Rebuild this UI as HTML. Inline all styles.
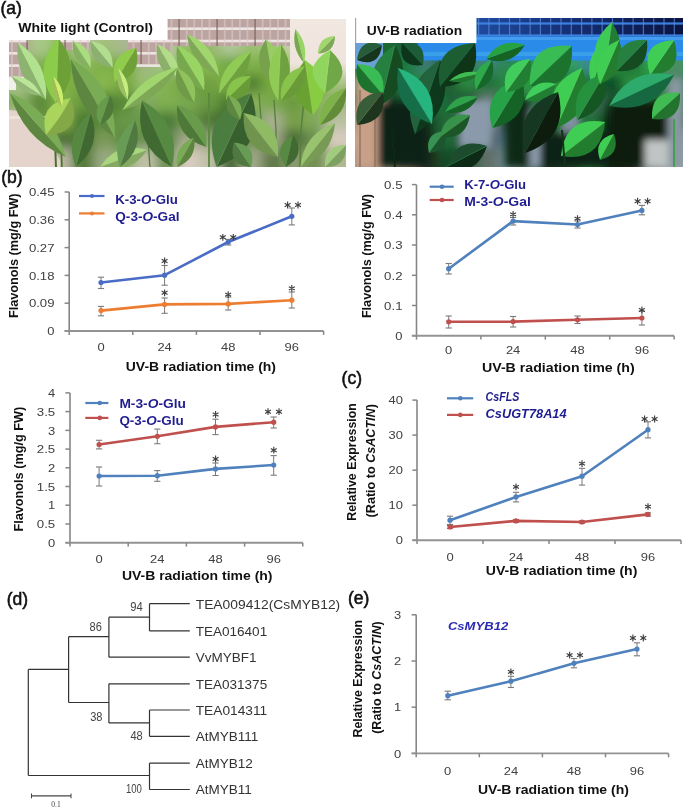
<!DOCTYPE html><html><head><meta charset="utf-8"><style>html,body{margin:0;padding:0;background:#fff;}svg{display:block;}text{font-family:"Liberation Sans", sans-serif;}</style></head><body>
<svg width="685" height="807" viewBox="0 0 685 807">
<rect width="685" height="807" fill="#fff"/>
<filter id="lfb"><feGaussianBlur stdDeviation="0.7"/></filter>
<filter id="plb" x="-10%" y="-10%" width="120%" height="120%"><feGaussianBlur stdDeviation="6"/></filter>
<clipPath id="pl"><rect x="9" y="19" width="337" height="148"/></clipPath>
<g clip-path="url(#pl)"><g filter="url(#plb)">
<rect x="-11.0" y="-1.0" width="41.7" height="39.1" fill="#b8a8a0"/>
<rect x="30.1" y="-1.0" width="21.7" height="39.1" fill="#a8c888"/>
<rect x="51.1" y="-1.0" width="21.7" height="39.1" fill="#a0c070"/>
<rect x="72.2" y="-1.0" width="21.7" height="39.1" fill="#b8c0a0"/>
<rect x="93.2" y="-1.0" width="21.7" height="39.1" fill="#a8c080"/>
<rect x="114.3" y="-1.0" width="21.7" height="39.1" fill="#b0b898"/>
<rect x="135.4" y="-1.0" width="21.7" height="39.1" fill="#b8b0a0"/>
<rect x="156.4" y="-1.0" width="21.7" height="39.1" fill="#c8c0b0"/>
<rect x="177.5" y="-1.0" width="21.7" height="39.1" fill="#c8c8b0"/>
<rect x="198.6" y="-1.0" width="21.7" height="39.1" fill="#c8bcb0"/>
<rect x="219.6" y="-1.0" width="21.7" height="39.1" fill="#d0c0b8"/>
<rect x="240.7" y="-1.0" width="21.7" height="39.1" fill="#c0b0a8"/>
<rect x="261.8" y="-1.0" width="21.7" height="39.1" fill="#b8a8a0"/>
<rect x="282.8" y="-1.0" width="21.7" height="39.1" fill="#e8e0d8"/>
<rect x="303.9" y="-1.0" width="21.7" height="39.1" fill="#f0e0d8"/>
<rect x="324.9" y="-1.0" width="41.7" height="39.1" fill="#eee0d8"/>
<rect x="-11.0" y="37.5" width="41.7" height="19.1" fill="#b0a890"/>
<rect x="30.1" y="37.5" width="21.7" height="19.1" fill="#a8c888"/>
<rect x="51.1" y="37.5" width="21.7" height="19.1" fill="#88b850"/>
<rect x="72.2" y="37.5" width="21.7" height="19.1" fill="#b8c0a0"/>
<rect x="93.2" y="37.5" width="21.7" height="19.1" fill="#a0c078"/>
<rect x="114.3" y="37.5" width="21.7" height="19.1" fill="#a8b890"/>
<rect x="135.4" y="37.5" width="21.7" height="19.1" fill="#b8b0a0"/>
<rect x="156.4" y="37.5" width="21.7" height="19.1" fill="#c0c0a8"/>
<rect x="177.5" y="37.5" width="21.7" height="19.1" fill="#90c060"/>
<rect x="198.6" y="37.5" width="21.7" height="19.1" fill="#98b870"/>
<rect x="219.6" y="37.5" width="21.7" height="19.1" fill="#b0c898"/>
<rect x="240.7" y="37.5" width="21.7" height="19.1" fill="#98c070"/>
<rect x="261.8" y="37.5" width="21.7" height="19.1" fill="#a0c878"/>
<rect x="282.8" y="37.5" width="21.7" height="19.1" fill="#c8d0a8"/>
<rect x="303.9" y="37.5" width="21.7" height="19.1" fill="#c0d098"/>
<rect x="324.9" y="37.5" width="41.7" height="19.1" fill="#b8d090"/>
<rect x="-11.0" y="56.0" width="41.7" height="19.1" fill="#b0b098"/>
<rect x="30.1" y="56.0" width="21.7" height="19.1" fill="#80b050"/>
<rect x="51.1" y="56.0" width="21.7" height="19.1" fill="#70a838"/>
<rect x="72.2" y="56.0" width="21.7" height="19.1" fill="#88b858"/>
<rect x="93.2" y="56.0" width="21.7" height="19.1" fill="#80b048"/>
<rect x="114.3" y="56.0" width="21.7" height="19.1" fill="#7cb040"/>
<rect x="135.4" y="56.0" width="21.7" height="19.1" fill="#a0b880"/>
<rect x="156.4" y="56.0" width="21.7" height="19.1" fill="#a0c880"/>
<rect x="177.5" y="56.0" width="21.7" height="19.1" fill="#78b040"/>
<rect x="198.6" y="56.0" width="21.7" height="19.1" fill="#88b850"/>
<rect x="219.6" y="56.0" width="21.7" height="19.1" fill="#70a840"/>
<rect x="240.7" y="56.0" width="21.7" height="19.1" fill="#80b048"/>
<rect x="261.8" y="56.0" width="21.7" height="19.1" fill="#78a840"/>
<rect x="282.8" y="56.0" width="21.7" height="19.1" fill="#a0c868"/>
<rect x="303.9" y="56.0" width="21.7" height="19.1" fill="#78b030"/>
<rect x="324.9" y="56.0" width="41.7" height="19.1" fill="#90c060"/>
<rect x="-11.0" y="74.5" width="41.7" height="19.1" fill="#a8c088"/>
<rect x="30.1" y="74.5" width="21.7" height="19.1" fill="#78a848"/>
<rect x="51.1" y="74.5" width="21.7" height="19.1" fill="#80b040"/>
<rect x="72.2" y="74.5" width="21.7" height="19.1" fill="#78a848"/>
<rect x="93.2" y="74.5" width="21.7" height="19.1" fill="#88b850"/>
<rect x="114.3" y="74.5" width="21.7" height="19.1" fill="#78a840"/>
<rect x="135.4" y="74.5" width="21.7" height="19.1" fill="#98c070"/>
<rect x="156.4" y="74.5" width="21.7" height="19.1" fill="#80b050"/>
<rect x="177.5" y="74.5" width="21.7" height="19.1" fill="#70a040"/>
<rect x="198.6" y="74.5" width="21.7" height="19.1" fill="#70a040"/>
<rect x="219.6" y="74.5" width="21.7" height="19.1" fill="#80b048"/>
<rect x="240.7" y="74.5" width="21.7" height="19.1" fill="#508030"/>
<rect x="261.8" y="74.5" width="21.7" height="19.1" fill="#78a840"/>
<rect x="282.8" y="74.5" width="21.7" height="19.1" fill="#80b040"/>
<rect x="303.9" y="74.5" width="21.7" height="19.1" fill="#78b038"/>
<rect x="324.9" y="74.5" width="41.7" height="19.1" fill="#80b050"/>
<rect x="-11.0" y="93.0" width="41.7" height="19.1" fill="#88b060"/>
<rect x="30.1" y="93.0" width="21.7" height="19.1" fill="#5a8a38"/>
<rect x="51.1" y="93.0" width="21.7" height="19.1" fill="#80b048"/>
<rect x="72.2" y="93.0" width="21.7" height="19.1" fill="#6a9a40"/>
<rect x="93.2" y="93.0" width="21.7" height="19.1" fill="#4a7a30"/>
<rect x="114.3" y="93.0" width="21.7" height="19.1" fill="#5a8a38"/>
<rect x="135.4" y="93.0" width="21.7" height="19.1" fill="#80a860"/>
<rect x="156.4" y="93.0" width="21.7" height="19.1" fill="#80b050"/>
<rect x="177.5" y="93.0" width="21.7" height="19.1" fill="#78a850"/>
<rect x="198.6" y="93.0" width="21.7" height="19.1" fill="#6a9840"/>
<rect x="219.6" y="93.0" width="21.7" height="19.1" fill="#4a7a30"/>
<rect x="240.7" y="93.0" width="21.7" height="19.1" fill="#88b058"/>
<rect x="261.8" y="93.0" width="21.7" height="19.1" fill="#78a848"/>
<rect x="282.8" y="93.0" width="21.7" height="19.1" fill="#6a9a40"/>
<rect x="303.9" y="93.0" width="21.7" height="19.1" fill="#80b050"/>
<rect x="324.9" y="93.0" width="41.7" height="19.1" fill="#a0b880"/>
<rect x="-11.0" y="111.5" width="41.7" height="19.1" fill="#c8c0a8"/>
<rect x="30.1" y="111.5" width="21.7" height="19.1" fill="#6a9040"/>
<rect x="51.1" y="111.5" width="21.7" height="19.1" fill="#88b050"/>
<rect x="72.2" y="111.5" width="21.7" height="19.1" fill="#4a7a30"/>
<rect x="93.2" y="111.5" width="21.7" height="19.1" fill="#5a8a38"/>
<rect x="114.3" y="111.5" width="21.7" height="19.1" fill="#6a9848"/>
<rect x="135.4" y="111.5" width="21.7" height="19.1" fill="#6a9a48"/>
<rect x="156.4" y="111.5" width="21.7" height="19.1" fill="#4a7838"/>
<rect x="177.5" y="111.5" width="21.7" height="19.1" fill="#6a9848"/>
<rect x="198.6" y="111.5" width="21.7" height="19.1" fill="#507838"/>
<rect x="219.6" y="111.5" width="21.7" height="19.1" fill="#3a6028"/>
<rect x="240.7" y="111.5" width="21.7" height="19.1" fill="#70a050"/>
<rect x="261.8" y="111.5" width="21.7" height="19.1" fill="#a8b090"/>
<rect x="282.8" y="111.5" width="21.7" height="19.1" fill="#78a048"/>
<rect x="303.9" y="111.5" width="21.7" height="19.1" fill="#80a858"/>
<rect x="324.9" y="111.5" width="41.7" height="19.1" fill="#b8c0a0"/>
<rect x="-11.0" y="130.0" width="41.7" height="19.1" fill="#e8d8d0"/>
<rect x="30.1" y="130.0" width="21.7" height="19.1" fill="#a8a888"/>
<rect x="51.1" y="130.0" width="21.7" height="19.1" fill="#4a7030"/>
<rect x="72.2" y="130.0" width="21.7" height="19.1" fill="#507830"/>
<rect x="93.2" y="130.0" width="21.7" height="19.1" fill="#7a9a58"/>
<rect x="114.3" y="130.0" width="21.7" height="19.1" fill="#5a8a40"/>
<rect x="135.4" y="130.0" width="21.7" height="19.1" fill="#6a9050"/>
<rect x="156.4" y="130.0" width="21.7" height="19.1" fill="#608848"/>
<rect x="177.5" y="130.0" width="21.7" height="19.1" fill="#a0a888"/>
<rect x="198.6" y="130.0" width="21.7" height="19.1" fill="#90a078"/>
<rect x="219.6" y="130.0" width="21.7" height="19.1" fill="#3a6028"/>
<rect x="240.7" y="130.0" width="21.7" height="19.1" fill="#6a9048"/>
<rect x="261.8" y="130.0" width="21.7" height="19.1" fill="#a0a888"/>
<rect x="282.8" y="130.0" width="21.7" height="19.1" fill="#4a6a38"/>
<rect x="303.9" y="130.0" width="21.7" height="19.1" fill="#6a9050"/>
<rect x="324.9" y="130.0" width="41.7" height="19.1" fill="#d8ccc0"/>
<rect x="-11.0" y="148.5" width="41.7" height="39.1" fill="#d0c8b8"/>
<rect x="30.1" y="148.5" width="21.7" height="39.1" fill="#e8d8d0"/>
<rect x="51.1" y="148.5" width="21.7" height="39.1" fill="#b8b8a0"/>
<rect x="72.2" y="148.5" width="21.7" height="39.1" fill="#507830"/>
<rect x="93.2" y="148.5" width="21.7" height="39.1" fill="#98a880"/>
<rect x="114.3" y="148.5" width="21.7" height="39.1" fill="#90b070"/>
<rect x="135.4" y="148.5" width="21.7" height="39.1" fill="#c0c0a8"/>
<rect x="156.4" y="148.5" width="21.7" height="39.1" fill="#6a9050"/>
<rect x="177.5" y="148.5" width="21.7" height="39.1" fill="#d8ccc0"/>
<rect x="198.6" y="148.5" width="21.7" height="39.1" fill="#c0c0a8"/>
<rect x="219.6" y="148.5" width="21.7" height="39.1" fill="#4a6a38"/>
<rect x="240.7" y="148.5" width="21.7" height="39.1" fill="#a0a888"/>
<rect x="261.8" y="148.5" width="21.7" height="39.1" fill="#607848"/>
<rect x="282.8" y="148.5" width="21.7" height="39.1" fill="#8a9a70"/>
<rect x="303.9" y="148.5" width="21.7" height="39.1" fill="#709050"/>
<rect x="324.9" y="148.5" width="41.7" height="39.1" fill="#b0b890"/>
</g></g>
<g clip-path="url(#pl)"><g filter="url(#lfb)">
<rect x="160" y="19" width="131" height="27" fill="#bca4a0"/>
<rect x="160" y="27.4" width="131" height="2.6" fill="#efe4e4"/>
<rect x="160" y="39.7" width="131" height="2.6" fill="#efe4e4"/>
<rect x="163.0" y="19" width="1.8" height="27" fill="#dccccc" opacity="0.6"/>
<rect x="170.6" y="19" width="1.8" height="27" fill="#dccccc" opacity="0.6"/>
<rect x="178.2" y="19" width="1.8" height="27" fill="#7a5c54" opacity="0.6"/>
<rect x="185.8" y="19" width="1.8" height="27" fill="#dccccc" opacity="0.6"/>
<rect x="193.4" y="19" width="1.8" height="27" fill="#dccccc" opacity="0.6"/>
<rect x="201.0" y="19" width="1.8" height="27" fill="#dccccc" opacity="0.6"/>
<rect x="208.6" y="19" width="1.8" height="27" fill="#dccccc" opacity="0.6"/>
<rect x="216.2" y="19" width="1.8" height="27" fill="#7a5c54" opacity="0.6"/>
<rect x="223.8" y="19" width="1.8" height="27" fill="#dccccc" opacity="0.6"/>
<rect x="231.4" y="19" width="1.8" height="27" fill="#dccccc" opacity="0.6"/>
<rect x="239.0" y="19" width="1.8" height="27" fill="#dccccc" opacity="0.6"/>
<rect x="246.6" y="19" width="1.8" height="27" fill="#dccccc" opacity="0.6"/>
<rect x="254.2" y="19" width="1.8" height="27" fill="#7a5c54" opacity="0.6"/>
<rect x="261.8" y="19" width="1.8" height="27" fill="#dccccc" opacity="0.6"/>
<rect x="269.4" y="19" width="1.8" height="27" fill="#dccccc" opacity="0.6"/>
<rect x="277.0" y="19" width="1.8" height="27" fill="#dccccc" opacity="0.6"/>
<rect x="284.6" y="19" width="1.8" height="27" fill="#dccccc" opacity="0.6"/>
<rect x="9" y="40" width="19" height="38" fill="#bca4a0"/>
<rect x="9" y="39.7" width="19" height="2.6" fill="#efe4e4"/>
<rect x="9" y="52.0" width="19" height="2.6" fill="#efe4e4"/>
<rect x="9" y="64.3" width="19" height="2.6" fill="#efe4e4"/>
<rect x="9" y="76.6" width="19" height="2.6" fill="#efe4e4"/>
<rect x="11.0" y="40" width="1.8" height="38" fill="#dccccc" opacity="0.6"/>
<rect x="18.6" y="40" width="1.8" height="38" fill="#dccccc" opacity="0.6"/>
<rect x="26.2" y="40" width="1.8" height="38" fill="#7a5c54" opacity="0.6"/>
<rect x="60" y="40" width="30" height="10" fill="#bca4a0"/>
<rect x="60" y="39.7" width="30" height="2.6" fill="#efe4e4"/>
<rect x="64.2" y="40" width="1.8" height="10" fill="#7a5c54" opacity="0.6"/>
<rect x="71.8" y="40" width="1.8" height="10" fill="#dccccc" opacity="0.6"/>
<rect x="79.4" y="40" width="1.8" height="10" fill="#dccccc" opacity="0.6"/>
<rect x="87.0" y="40" width="1.8" height="10" fill="#dccccc" opacity="0.6"/>
<rect x="128" y="40" width="42" height="24" fill="#bca4a0"/>
<rect x="128" y="39.7" width="42" height="2.6" fill="#efe4e4"/>
<rect x="128" y="52.0" width="42" height="2.6" fill="#efe4e4"/>
<rect x="128" y="64.3" width="42" height="2.6" fill="#efe4e4"/>
<rect x="132.6" y="40" width="1.8" height="24" fill="#dccccc" opacity="0.6"/>
<rect x="140.2" y="40" width="1.8" height="24" fill="#7a5c54" opacity="0.6"/>
<rect x="147.8" y="40" width="1.8" height="24" fill="#dccccc" opacity="0.6"/>
<rect x="155.4" y="40" width="1.8" height="24" fill="#dccccc" opacity="0.6"/>
<rect x="163.0" y="40" width="1.8" height="24" fill="#dccccc" opacity="0.6"/>
<rect x="9" y="78" width="7" height="12" fill="#f0f0e8"/>
<path d="M9,110 L30,112 L60,160 L60,167 L9,167Z" fill="#e4d4cc"/>
<rect x="9" y="116" width="40" height="3" fill="#efe4dc" opacity="0.8"/>
<linearGradient id="wallg" x1="0" x2="0" y1="0" y2="1"><stop offset="0" stop-color="#f2e8e2"/><stop offset="0.6" stop-color="#efe4dc"/><stop offset="1" stop-color="#efe4dc" stop-opacity="0"/></linearGradient>
<rect x="290" y="15" width="60" height="80" fill="url(#wallg)"/>
</g></g>
<g clip-path="url(#pl)" filter="url(#lfb)"><path d="M56.0,168.0 L55.0,140.0 L52.0,110.0" stroke="#4a7030" stroke-width="2" fill="none"/>
<path d="M62.0,168.0 L61.0,145.0" stroke="#4a7030" stroke-width="1.6" fill="none"/>
<path d="M209.0,168.0 L209.0,130.0 L209.0,93.0" stroke="#5a8a40" stroke-width="1.8" fill="none"/>
<path d="M261.0,150.0 L261.0,120.0 L259.0,93.0" stroke="#5a8040" stroke-width="1.4" fill="none"/>
<path d="M276.0,168.0 L276.0,130.0 L274.0,100.0" stroke="#5a8040" stroke-width="1.4" fill="none"/>
<path d="M300.0,168.0 L301.0,130.0 L304.0,100.0" stroke="#5a8040" stroke-width="1.6" fill="none"/>
<path d="M150.0,168.0 L148.0,140.0" stroke="#5a7a40" stroke-width="1.4" fill="none"/>
<path d="M46.0,100.0Q49.3,62.6 17.6,42.5Q31.8,71.2 46.0,100.0Z" fill="#b2e190"/><path d="M46.0,100.0Q14.3,79.9 17.6,42.5Q31.8,71.2 46.0,100.0Z" fill="#8cb370"/>
<path d="M41.0,95.5Q32.6,76.2 11.5,76.0Q26.2,85.8 41.0,95.5Z" fill="#bbe699"/><path d="M41.0,95.5Q19.9,95.3 11.5,76.0Q26.2,85.8 41.0,95.5Z" fill="#93b777"/>
<path d="M90.5,68.0Q93.3,47.0 73.0,41.0Q81.8,54.5 90.5,68.0Z" fill="#aadd7f"/><path d="M90.5,68.0Q70.2,62.0 73.0,41.0Q81.8,54.5 90.5,68.0Z" fill="#85b062"/>
<path d="M112.7,68.0Q114.0,44.3 90.5,41.0Q101.6,54.5 112.7,68.0Z" fill="#b2dd90"/><path d="M112.7,68.0Q89.2,64.7 90.5,41.0Q101.6,54.5 112.7,68.0Z" fill="#8cb070"/>
<path d="M56.0,103.0Q84.8,71.5 58.4,38.0Q57.2,70.5 56.0,103.0Z" fill="#6da138"/><path d="M56.0,103.0Q29.6,69.5 58.4,38.0Q57.2,70.5 56.0,103.0Z" fill="#8ccc4c"/><path d="M56.0,103.0Q57.2,70.5 58.4,38.0" stroke="#a8d868" stroke-width="0.7" fill="none" opacity="0.6"/>
<path d="M115.0,137.5Q116.7,84.6 70.7,58.5Q94.6,97.0 115.0,137.5Z" fill="#79ac54"/><path d="M115.0,137.5Q72.5,109.4 70.7,58.5Q94.6,97.0 115.0,137.5Z" fill="#5d873f"/><path d="M115.0,137.5Q94.6,97.0 70.7,58.5" stroke="#a0c878" stroke-width="0.7" fill="none" opacity="0.6"/>
<path d="M115.0,83.0Q143.3,75.7 136.0,47.4Q125.5,65.2 115.0,83.0Z" fill="#70a138"/><path d="M115.0,83.0Q107.7,54.7 136.0,47.4Q125.5,65.2 115.0,83.0Z" fill="#90cc4c"/>
<path d="M127.5,100.0Q131.6,81.4 118.0,68.0Q122.8,84.0 127.5,100.0Z" fill="#c3ee7f"/><path d="M127.5,100.0Q113.9,86.6 118.0,68.0Q122.8,84.0 127.5,100.0Z" fill="#9abe62"/>
<path d="M178.0,80.7Q181.5,54.3 157.0,43.7Q167.5,62.2 178.0,80.7Z" fill="#b2dd88"/><path d="M178.0,80.7Q153.5,70.1 157.0,43.7Q167.5,62.2 178.0,80.7Z" fill="#8cb069"/>
<path d="M66.0,157.0Q53.6,111.4 10.0,93.0Q38.0,125.0 66.0,157.0Z" fill="#79ac54"/><path d="M66.0,157.0Q22.4,138.6 10.0,93.0Q38.0,125.0 66.0,157.0Z" fill="#5d873f"/><path d="M66.0,157.0Q38.0,125.0 10.0,93.0" stroke="#98c070" stroke-width="0.7" fill="none" opacity="0.6"/>
<path d="M122.6,110.0Q159.6,100.4 178.0,67.0Q149.7,87.7 122.6,110.0Z" fill="#7ea854"/><path d="M122.6,110.0Q139.8,75.0 178.0,67.0Q149.7,87.7 122.6,110.0Z" fill="#a1d56e"/><path d="M122.6,110.0Q149.7,87.7 178.0,67.0" stroke="#b8e088" stroke-width="0.7" fill="none" opacity="0.6"/>
<path d="M46.0,135.0Q83.8,133.5 70.7,98.0Q60.8,118.2 46.0,135.0Z" fill="#85a846"/><path d="M46.0,135.0Q37.9,102.8 70.7,98.0Q60.8,118.2 46.0,135.0Z" fill="#aad55d"/>
<path d="M75.7,167.0Q103.1,145.5 90.5,113.0Q83.1,140.0 75.7,167.0Z" fill="#416931"/><path d="M75.7,167.0Q63.1,134.5 90.5,113.0Q83.1,140.0 75.7,167.0Z" fill="#568843"/><path d="M75.7,167.0Q83.1,140.0 90.5,113.0" stroke="#6a9a58" stroke-width="0.7" fill="none" opacity="0.6"/>
<path d="M172.0,167.0Q182.2,122.4 142.0,100.5Q157.0,133.8 172.0,167.0Z" fill="#568a43"/><path d="M172.0,167.0Q131.8,145.1 142.0,100.5Q157.0,133.8 172.0,167.0Z" fill="#416b31"/><path d="M172.0,167.0Q157.0,133.8 142.0,100.5" stroke="#6a9a58" stroke-width="0.7" fill="none" opacity="0.6"/>
<path d="M100.0,167.0Q129.8,175.8 147.0,150.0Q123.5,158.5 100.0,167.0Z" fill="#85a862"/><path d="M100.0,167.0Q117.2,141.2 147.0,150.0Q123.5,158.5 100.0,167.0Z" fill="#aad57f"/>
<path d="M62.0,107.0Q66.3,88.9 53.0,76.0Q57.5,91.5 62.0,107.0Z" fill="#ccee6e"/><path d="M62.0,107.0Q48.7,94.1 53.0,76.0Q57.5,91.5 62.0,107.0Z" fill="#a1be54"/>
<path d="M120.0,167.0Q145.0,149.1 135.0,120.0Q127.5,143.5 120.0,167.0Z" fill="#4f793f"/><path d="M120.0,167.0Q110.0,137.9 135.0,120.0Q127.5,143.5 120.0,167.0Z" fill="#679b54"/>
<path d="M100.0,125.0Q120.3,115.1 110.0,95.0Q105.0,110.0 100.0,125.0Z" fill="#4f7938"/><path d="M100.0,125.0Q89.7,104.9 110.0,95.0Q105.0,110.0 100.0,125.0Z" fill="#679b4c"/>
<path d="M219.0,76.0Q215.8,45.2 187.0,34.0Q203.0,55.0 219.0,76.0Z" fill="#a1d56e"/><path d="M219.0,76.0Q190.2,64.8 187.0,34.0Q203.0,55.0 219.0,76.0Z" fill="#7ea854"/><path d="M219.0,76.0Q203.0,55.0 187.0,34.0" stroke="#b8e088" stroke-width="0.7" fill="none" opacity="0.6"/>
<path d="M204.0,90.6Q208.2,57.6 177.0,46.0Q190.5,68.3 204.0,90.6Z" fill="#99d565"/><path d="M204.0,90.6Q172.8,79.0 177.0,46.0Q190.5,68.3 204.0,90.6Z" fill="#77a84d"/>
<path d="M219.0,93.0Q249.6,83.2 251.0,51.0Q235.0,72.0 219.0,93.0Z" fill="#70a13f"/><path d="M219.0,93.0Q220.4,60.8 251.0,51.0Q235.0,72.0 219.0,93.0Z" fill="#90cc54"/><path d="M219.0,93.0Q235.0,72.0 251.0,51.0" stroke="#a8d870" stroke-width="0.7" fill="none" opacity="0.6"/>
<path d="M226.0,100.0Q251.2,101.3 251.0,76.0Q238.5,88.0 226.0,100.0Z" fill="#699a38"/><path d="M226.0,100.0Q225.8,74.7 251.0,76.0Q238.5,88.0 226.0,100.0Z" fill="#88c34c"/>
<path d="M216.5,167.0Q269.2,146.5 251.0,93.0Q233.8,130.0 216.5,167.0Z" fill="#37602d"/><path d="M216.5,167.0Q198.3,113.5 251.0,93.0Q233.8,130.0 216.5,167.0Z" fill="#4b7d3f"/><path d="M216.5,167.0Q233.8,130.0 251.0,93.0" stroke="#78a868" stroke-width="0.7" fill="none" opacity="0.6"/>
<path d="M278.0,157.0Q280.8,119.4 243.7,113.0Q260.9,135.0 278.0,157.0Z" fill="#90bb65"/><path d="M278.0,157.0Q240.9,150.6 243.7,113.0Q260.9,135.0 278.0,157.0Z" fill="#70934d"/><path d="M278.0,157.0Q260.9,135.0 243.7,113.0" stroke="#a0c078" stroke-width="0.7" fill="none" opacity="0.6"/>
<path d="M273.0,83.0Q289.9,57.7 266.0,39.0Q269.5,61.0 273.0,83.0Z" fill="#99cc65"/><path d="M273.0,83.0Q249.1,64.3 266.0,39.0Q269.5,61.0 273.0,83.0Z" fill="#77a14d"/>
<path d="M278.0,100.5Q300.0,73.1 280.7,43.7Q279.4,72.1 278.0,100.5Z" fill="#70a13f"/><path d="M278.0,100.5Q258.7,71.1 280.7,43.7Q279.4,72.1 278.0,100.5Z" fill="#90cc54"/><path d="M278.0,100.5Q279.4,72.1 280.7,43.7" stroke="#a8d870" stroke-width="0.7" fill="none" opacity="0.6"/>
<path d="M304.0,63.0Q308.7,43.8 295.5,29.0Q299.8,46.0 304.0,63.0Z" fill="#99d565"/><path d="M304.0,63.0Q290.8,48.2 295.5,29.0Q299.8,46.0 304.0,63.0Z" fill="#77a84d"/>
<path d="M313.0,115.0Q338.6,83.2 305.0,60.0Q309.0,87.5 313.0,115.0Z" fill="#88cc43"/><path d="M313.0,115.0Q279.4,91.8 305.0,60.0Q309.0,87.5 313.0,115.0Z" fill="#69a131"/><path d="M313.0,115.0Q309.0,87.5 305.0,60.0" stroke="#a0d858" stroke-width="0.7" fill="none" opacity="0.6"/>
<path d="M325.0,93.0Q357.2,75.0 330.0,50.0Q327.5,71.5 325.0,93.0Z" fill="#70a846"/><path d="M325.0,93.0Q297.8,68.0 330.0,50.0Q327.5,71.5 325.0,93.0Z" fill="#90d55d"/><path d="M325.0,93.0Q327.5,71.5 330.0,50.0" stroke="#a8dc70" stroke-width="0.7" fill="none" opacity="0.6"/>
<path d="M318.0,53.6Q334.8,52.8 335.0,36.0Q326.5,44.8 318.0,53.6Z" fill="#7ea854"/><path d="M318.0,53.6Q318.2,36.8 335.0,36.0Q326.5,44.8 318.0,53.6Z" fill="#a1d56e"/>
<path d="M281.0,100.5Q308.1,93.8 305.0,66.0Q293.0,83.2 281.0,100.5Z" fill="#699a38"/><path d="M281.0,100.5Q277.9,72.7 305.0,66.0Q293.0,83.2 281.0,100.5Z" fill="#88c34c"/>
<path d="M320.0,125.0Q348.1,117.1 346.0,88.0Q333.0,106.5 320.0,125.0Z" fill="#628c38"/><path d="M320.0,125.0Q317.9,95.9 346.0,88.0Q333.0,106.5 320.0,125.0Z" fill="#7fb24c"/>
<path d="M300.5,167.0Q332.2,156.4 335.0,123.0Q317.8,145.0 300.5,167.0Z" fill="#779a54"/><path d="M300.5,167.0Q303.3,133.6 335.0,123.0Q317.8,145.0 300.5,167.0Z" fill="#99c36e"/>
<path d="M325.0,167.0Q347.1,167.1 346.0,145.0Q335.5,156.0 325.0,167.0Z" fill="#7ea162"/><path d="M325.0,167.0Q323.9,144.9 346.0,145.0Q335.5,156.0 325.0,167.0Z" fill="#a1cc7f"/>
<path d="M285.6,167.0Q307.2,155.1 293.0,135.0Q289.3,151.0 285.6,167.0Z" fill="#416b31"/><path d="M285.6,167.0Q271.4,146.9 293.0,135.0Q289.3,151.0 285.6,167.0Z" fill="#568a43"/>
<path d="M206.6,147.0Q208.7,114.1 177.0,105.0Q191.8,126.0 206.6,147.0Z" fill="#679b4c"/><path d="M206.6,147.0Q174.9,137.9 177.0,105.0Q191.8,126.0 206.6,147.0Z" fill="#4f7938"/><path d="M206.6,147.0Q191.8,126.0 177.0,105.0" stroke="#80b060" stroke-width="0.7" fill="none" opacity="0.6"/>
<path d="M194.0,137.5Q173.5,145.4 177.0,167.0Q185.5,152.2 194.0,137.5Z" fill="#79aa54"/><path d="M194.0,137.5Q197.5,159.1 177.0,167.0Q185.5,152.2 194.0,137.5Z" fill="#5d853f"/>
<path d="M251.0,167.0Q257.5,144.2 233.8,142.5Q242.4,154.8 251.0,167.0Z" fill="#679b54"/><path d="M251.0,167.0Q227.3,165.3 233.8,142.5Q242.4,154.8 251.0,167.0Z" fill="#4f793f"/>
<path d="M194.0,103.0Q200.0,78.5 177.0,68.0Q185.5,85.5 194.0,103.0Z" fill="#90c35d"/><path d="M194.0,103.0Q171.0,92.5 177.0,68.0Q185.5,85.5 194.0,103.0Z" fill="#709a46"/>
<path d="M240.0,120.0Q246.4,101.5 228.0,95.0Q234.0,107.5 240.0,120.0Z" fill="#79ac54"/><path d="M240.0,120.0Q221.6,113.5 228.0,95.0Q234.0,107.5 240.0,120.0Z" fill="#5d873f"/></g>
<filter id="prb" x="-10%" y="-10%" width="120%" height="120%"><feGaussianBlur stdDeviation="6"/></filter>
<clipPath id="pr"><rect x="355" y="18" width="328" height="149"/></clipPath>
<g clip-path="url(#pr)"><g filter="url(#prb)">
<rect x="335.0" y="-2.0" width="41.1" height="39.2" fill="#2a6a50"/>
<rect x="375.5" y="-2.0" width="21.1" height="39.2" fill="#1a6a30"/>
<rect x="396.0" y="-2.0" width="21.1" height="39.2" fill="#1a5a40"/>
<rect x="416.5" y="-2.0" width="21.1" height="39.2" fill="#3a70a0"/>
<rect x="437.0" y="-2.0" width="21.1" height="39.2" fill="#1a5030"/>
<rect x="457.5" y="-2.0" width="21.1" height="39.2" fill="#3078b0"/>
<rect x="478.0" y="-2.0" width="21.1" height="39.2" fill="#2858b0"/>
<rect x="498.5" y="-2.0" width="21.1" height="39.2" fill="#2858b0"/>
<rect x="519.0" y="-2.0" width="21.1" height="39.2" fill="#2858b0"/>
<rect x="539.5" y="-2.0" width="21.1" height="39.2" fill="#2050a8"/>
<rect x="560.0" y="-2.0" width="21.1" height="39.2" fill="#2050a8"/>
<rect x="580.5" y="-2.0" width="21.1" height="39.2" fill="#2050a8"/>
<rect x="601.0" y="-2.0" width="21.1" height="39.2" fill="#2a6090"/>
<rect x="621.5" y="-2.0" width="21.1" height="39.2" fill="#2050a8"/>
<rect x="642.0" y="-2.0" width="21.1" height="39.2" fill="#1c48a0"/>
<rect x="662.5" y="-2.0" width="41.1" height="39.2" fill="#1c4898"/>
<rect x="335.0" y="36.6" width="41.1" height="19.2" fill="#206040"/>
<rect x="375.5" y="36.6" width="21.1" height="19.2" fill="#1a6a30"/>
<rect x="396.0" y="36.6" width="21.1" height="19.2" fill="#1a5a40"/>
<rect x="416.5" y="36.6" width="21.1" height="19.2" fill="#3a70a0"/>
<rect x="437.0" y="36.6" width="21.1" height="19.2" fill="#1a5030"/>
<rect x="457.5" y="36.6" width="21.1" height="19.2" fill="#3078b0"/>
<rect x="478.0" y="36.6" width="21.1" height="19.2" fill="#3a88d8"/>
<rect x="498.5" y="36.6" width="21.1" height="19.2" fill="#3080a0"/>
<rect x="519.0" y="36.6" width="21.1" height="19.2" fill="#2a8a80"/>
<rect x="539.5" y="36.6" width="21.1" height="19.2" fill="#3a88c0"/>
<rect x="560.0" y="36.6" width="21.1" height="19.2" fill="#2a8860"/>
<rect x="580.5" y="36.6" width="21.1" height="19.2" fill="#3a88d8"/>
<rect x="601.0" y="36.6" width="21.1" height="19.2" fill="#30a050"/>
<rect x="621.5" y="36.6" width="21.1" height="19.2" fill="#2a7070"/>
<rect x="642.0" y="36.6" width="21.1" height="19.2" fill="#3a88c0"/>
<rect x="662.5" y="36.6" width="41.1" height="19.2" fill="#3a9070"/>
<rect x="335.0" y="55.2" width="41.1" height="19.2" fill="#28905a"/>
<rect x="375.5" y="55.2" width="21.1" height="19.2" fill="#186a30"/>
<rect x="396.0" y="55.2" width="21.1" height="19.2" fill="#1a7a40"/>
<rect x="416.5" y="55.2" width="21.1" height="19.2" fill="#3a7a70"/>
<rect x="437.0" y="55.2" width="21.1" height="19.2" fill="#1a6030"/>
<rect x="457.5" y="55.2" width="21.1" height="19.2" fill="#308a60"/>
<rect x="478.0" y="55.2" width="21.1" height="19.2" fill="#3a8070"/>
<rect x="498.5" y="55.2" width="21.1" height="19.2" fill="#2a8850"/>
<rect x="519.0" y="55.2" width="21.1" height="19.2" fill="#2a9048"/>
<rect x="539.5" y="55.2" width="21.1" height="19.2" fill="#208838"/>
<rect x="560.0" y="55.2" width="21.1" height="19.2" fill="#30a060"/>
<rect x="580.5" y="55.2" width="21.1" height="19.2" fill="#3a8890"/>
<rect x="601.0" y="55.2" width="21.1" height="19.2" fill="#2a9840"/>
<rect x="621.5" y="55.2" width="21.1" height="19.2" fill="#1a7030"/>
<rect x="642.0" y="55.2" width="21.1" height="19.2" fill="#30a050"/>
<rect x="662.5" y="55.2" width="41.1" height="19.2" fill="#4a9060"/>
<rect x="335.0" y="73.9" width="41.1" height="19.2" fill="#4a8a48"/>
<rect x="375.5" y="73.9" width="21.1" height="19.2" fill="#154a28"/>
<rect x="396.0" y="73.9" width="21.1" height="19.2" fill="#208048"/>
<rect x="416.5" y="73.9" width="21.1" height="19.2" fill="#2a8a40"/>
<rect x="437.0" y="73.9" width="21.1" height="19.2" fill="#205830"/>
<rect x="457.5" y="73.9" width="21.1" height="19.2" fill="#2a8840"/>
<rect x="478.0" y="73.9" width="21.1" height="19.2" fill="#1a7038"/>
<rect x="498.5" y="73.9" width="21.1" height="19.2" fill="#2a8a40"/>
<rect x="519.0" y="73.9" width="21.1" height="19.2" fill="#2a9840"/>
<rect x="539.5" y="73.9" width="21.1" height="19.2" fill="#30a040"/>
<rect x="560.0" y="73.9" width="21.1" height="19.2" fill="#1a6030"/>
<rect x="580.5" y="73.9" width="21.1" height="19.2" fill="#207838"/>
<rect x="601.0" y="73.9" width="21.1" height="19.2" fill="#104a28"/>
<rect x="621.5" y="73.9" width="21.1" height="19.2" fill="#2a9040"/>
<rect x="642.0" y="73.9" width="21.1" height="19.2" fill="#208838"/>
<rect x="662.5" y="73.9" width="41.1" height="19.2" fill="#4a8068"/>
<rect x="335.0" y="92.5" width="41.1" height="19.2" fill="#405a40"/>
<rect x="375.5" y="92.5" width="21.1" height="19.2" fill="#183a20"/>
<rect x="396.0" y="92.5" width="21.1" height="19.2" fill="#1a5a30"/>
<rect x="416.5" y="92.5" width="21.1" height="19.2" fill="#208a48"/>
<rect x="437.0" y="92.5" width="21.1" height="19.2" fill="#1a6838"/>
<rect x="457.5" y="92.5" width="21.1" height="19.2" fill="#15452a"/>
<rect x="478.0" y="92.5" width="21.1" height="19.2" fill="#607a70"/>
<rect x="498.5" y="92.5" width="21.1" height="19.2" fill="#207040"/>
<rect x="519.0" y="92.5" width="21.1" height="19.2" fill="#307a50"/>
<rect x="539.5" y="92.5" width="21.1" height="19.2" fill="#1a5a30"/>
<rect x="560.0" y="92.5" width="21.1" height="19.2" fill="#2a9a40"/>
<rect x="580.5" y="92.5" width="21.1" height="19.2" fill="#4a6a60"/>
<rect x="601.0" y="92.5" width="21.1" height="19.2" fill="#1a5a30"/>
<rect x="621.5" y="92.5" width="21.1" height="19.2" fill="#1a5030"/>
<rect x="642.0" y="92.5" width="21.1" height="19.2" fill="#2a7838"/>
<rect x="662.5" y="92.5" width="41.1" height="19.2" fill="#4a8a58"/>
<rect x="335.0" y="111.1" width="41.1" height="19.2" fill="#a08870"/>
<rect x="375.5" y="111.1" width="21.1" height="19.2" fill="#304030"/>
<rect x="396.0" y="111.1" width="21.1" height="19.2" fill="#152a18"/>
<rect x="416.5" y="111.1" width="21.1" height="19.2" fill="#154020"/>
<rect x="437.0" y="111.1" width="21.1" height="19.2" fill="#206a38"/>
<rect x="457.5" y="111.1" width="21.1" height="19.2" fill="#1a5030"/>
<rect x="478.0" y="111.1" width="21.1" height="19.2" fill="#788898"/>
<rect x="498.5" y="111.1" width="21.1" height="19.2" fill="#304a40"/>
<rect x="519.0" y="111.1" width="21.1" height="19.2" fill="#104020"/>
<rect x="539.5" y="111.1" width="21.1" height="19.2" fill="#184a28"/>
<rect x="560.0" y="111.1" width="21.1" height="19.2" fill="#1a6a38"/>
<rect x="580.5" y="111.1" width="21.1" height="19.2" fill="#1a7038"/>
<rect x="601.0" y="111.1" width="21.1" height="19.2" fill="#0a2818"/>
<rect x="621.5" y="111.1" width="21.1" height="19.2" fill="#0a2818"/>
<rect x="642.0" y="111.1" width="21.1" height="19.2" fill="#103020"/>
<rect x="662.5" y="111.1" width="41.1" height="19.2" fill="#507060"/>
<rect x="335.0" y="129.8" width="41.1" height="19.2" fill="#c8a890"/>
<rect x="375.5" y="129.8" width="21.1" height="19.2" fill="#a08070"/>
<rect x="396.0" y="129.8" width="21.1" height="19.2" fill="#302a20"/>
<rect x="416.5" y="129.8" width="21.1" height="19.2" fill="#1a3020"/>
<rect x="437.0" y="129.8" width="21.1" height="19.2" fill="#1a6a38"/>
<rect x="457.5" y="129.8" width="21.1" height="19.2" fill="#153020"/>
<rect x="478.0" y="129.8" width="21.1" height="19.2" fill="#506068"/>
<rect x="498.5" y="129.8" width="21.1" height="19.2" fill="#507080"/>
<rect x="519.0" y="129.8" width="21.1" height="19.2" fill="#406050"/>
<rect x="539.5" y="129.8" width="21.1" height="19.2" fill="#204a28"/>
<rect x="560.0" y="129.8" width="21.1" height="19.2" fill="#2a8a40"/>
<rect x="580.5" y="129.8" width="21.1" height="19.2" fill="#30a040"/>
<rect x="601.0" y="129.8" width="21.1" height="19.2" fill="#0a2010"/>
<rect x="621.5" y="129.8" width="21.1" height="19.2" fill="#102818"/>
<rect x="642.0" y="129.8" width="21.1" height="19.2" fill="#405048"/>
<rect x="662.5" y="129.8" width="41.1" height="19.2" fill="#8a9aa0"/>
<rect x="335.0" y="148.4" width="41.1" height="39.2" fill="#a89080"/>
<rect x="375.5" y="148.4" width="21.1" height="39.2" fill="#b09888"/>
<rect x="396.0" y="148.4" width="21.1" height="39.2" fill="#807060"/>
<rect x="416.5" y="148.4" width="21.1" height="39.2" fill="#203020"/>
<rect x="437.0" y="148.4" width="21.1" height="39.2" fill="#184a28"/>
<rect x="457.5" y="148.4" width="21.1" height="39.2" fill="#1a5a30"/>
<rect x="478.0" y="148.4" width="21.1" height="39.2" fill="#607068"/>
<rect x="498.5" y="148.4" width="21.1" height="39.2" fill="#708890"/>
<rect x="519.0" y="148.4" width="21.1" height="39.2" fill="#506868"/>
<rect x="539.5" y="148.4" width="21.1" height="39.2" fill="#183020"/>
<rect x="560.0" y="148.4" width="21.1" height="39.2" fill="#1a4a28"/>
<rect x="580.5" y="148.4" width="21.1" height="39.2" fill="#208038"/>
<rect x="601.0" y="148.4" width="21.1" height="39.2" fill="#0a2010"/>
<rect x="621.5" y="148.4" width="21.1" height="39.2" fill="#182818"/>
<rect x="642.0" y="148.4" width="21.1" height="39.2" fill="#808888"/>
<rect x="662.5" y="148.4" width="41.1" height="39.2" fill="#9aa2a8"/>
</g></g>
<g clip-path="url(#pr)">
<linearGradient id="gridg" x1="0" x2="1" y1="0" y2="0"><stop offset="0" stop-color="#1f4a9e"/><stop offset="0.5" stop-color="#142c70"/><stop offset="1" stop-color="#0b1440"/></linearGradient>
<rect x="477" y="18" width="208" height="18.5" fill="url(#gridg)"/>
<rect x="477" y="22.4" width="215" height="2.2" fill="#3b80e0"/>
<rect x="477" y="34.4" width="215" height="2.2" fill="#3b80e0"/>
<rect x="478.0" y="18" width="1.2" height="17" fill="#5a8ad8" opacity="0.75"/>
<rect x="488.3" y="18" width="1.2" height="17" fill="#5a8ad8" opacity="0.75"/>
<rect x="498.6" y="18" width="1.2" height="17" fill="#5a8ad8" opacity="0.75"/>
<rect x="508.9" y="18" width="1.2" height="17" fill="#5a8ad8" opacity="0.75"/>
<rect x="519.2" y="18" width="1.2" height="17" fill="#5a8ad8" opacity="0.75"/>
<rect x="529.5" y="18" width="1.2" height="17" fill="#5a8ad8" opacity="0.75"/>
<rect x="539.8" y="18" width="1.2" height="17" fill="#5a8ad8" opacity="0.75"/>
<rect x="550.1" y="18" width="1.2" height="17" fill="#5a8ad8" opacity="0.75"/>
<rect x="560.4" y="18" width="1.2" height="17" fill="#5a8ad8" opacity="0.75"/>
<rect x="570.7" y="18" width="1.2" height="17" fill="#5a8ad8" opacity="0.75"/>
<rect x="581.0" y="18" width="1.2" height="17" fill="#5a8ad8" opacity="0.75"/>
<rect x="591.3" y="18" width="1.2" height="17" fill="#5a8ad8" opacity="0.75"/>
<rect x="601.6" y="18" width="1.2" height="17" fill="#5a8ad8" opacity="0.75"/>
<rect x="611.9" y="18" width="1.2" height="17" fill="#5a8ad8" opacity="0.75"/>
<rect x="622.2" y="18" width="1.2" height="17" fill="#5a8ad8" opacity="0.75"/>
<rect x="632.5" y="18" width="1.2" height="17" fill="#5a8ad8" opacity="0.75"/>
<rect x="642.8" y="18" width="1.2" height="17" fill="#5a8ad8" opacity="0.75"/>
<rect x="653.1" y="18" width="1.2" height="17" fill="#5a8ad8" opacity="0.75"/>
<rect x="663.4" y="18" width="1.2" height="17" fill="#5a8ad8" opacity="0.75"/>
<rect x="673.7" y="18" width="1.2" height="17" fill="#5a8ad8" opacity="0.75"/>
<rect x="684.0" y="18" width="1.2" height="17" fill="#5a8ad8" opacity="0.75"/>
<rect x="418" y="36.5" width="270" height="24" fill="#2c8ce8" filter="url(#lfb)"/>
<rect x="418" y="37" width="270" height="3" fill="#4aa0f0" opacity="0.8"/>
<rect x="418" y="52" width="270" height="4" fill="#40a8e8" opacity="0.7" filter="url(#lfb)"/>
<rect x="355" y="43" width="28" height="26" fill="#6aa0d8" filter="url(#lfb)"/>
</g>
<filter id="bgb" x="-20%" y="-20%" width="140%" height="140%"><feGaussianBlur stdDeviation="3.5"/></filter>
<g clip-path="url(#pr)"><g filter="url(#bgb)"><path d="M355.0,76.0 L386.0,76.0 L386.0,167.0 L355.0,167.0Z" fill="#c8a088"/>
<path d="M458.0,100.0 L492.0,100.0 L492.0,148.0 L458.0,148.0Z" fill="#8a9aaa"/>
<path d="M525.0,110.0 L540.0,110.0 L540.0,167.0 L525.0,167.0Z" fill="#8e9eae"/>
<path d="M561.0,106.0 L580.0,106.0 L580.0,134.0 L561.0,134.0Z" fill="#8090a0"/>
<path d="M668.0,78.0 L683.0,78.0 L683.0,167.0 L668.0,167.0Z" fill="#8a98a2"/>
<path d="M645.0,137.0 L668.0,137.0 L668.0,167.0 L645.0,167.0Z" fill="#c0c4c4"/>
<path d="M378.0,103.0 L426.0,100.0 L430.0,167.0 L378.0,167.0Z" fill="#0c2414"/>
<path d="M609.0,103.0 L668.0,100.0 L668.0,140.0 L645.0,140.0 L645.0,167.0 L609.0,167.0Z" fill="#0a1e10"/>
<path d="M541.0,134.0 L609.0,130.0 L609.0,167.0 L541.0,167.0Z" fill="#0b2212"/>
<path d="M505.0,100.0 L530.0,100.0 L530.0,167.0 L505.0,167.0Z" fill="#0e2c18"/></g></g>
<g clip-path="url(#pr)" filter="url(#lfb)"><path d="M360.0,90.0 L360.0,167.0" stroke="#8a6a58" stroke-width="1.2" fill="none"/>
<path d="M375.0,90.0 L375.0,167.0" stroke="#8a6a58" stroke-width="1.2" fill="none"/>
<path d="M357.0,60.0Q379.0,68.3 382.0,45.0Q369.5,52.5 357.0,60.0Z" fill="#12351c"/><path d="M357.0,60.0Q360.0,36.7 382.0,45.0Q369.5,52.5 357.0,60.0Z" fill="#285d37"/>
<path d="M380.0,106.0Q416.5,82.6 395.0,45.0Q387.5,75.5 380.0,106.0Z" fill="#124c22"/><path d="M380.0,106.0Q358.5,68.4 395.0,45.0Q387.5,75.5 380.0,106.0Z" fill="#288040"/><path d="M380.0,106.0Q387.5,75.5 395.0,45.0" stroke="#3a9a50" stroke-width="0.7" fill="none" opacity="0.6"/>
<path d="M383.0,95.0Q387.6,64.7 357.0,64.0Q370.0,79.5 383.0,95.0Z" fill="#39bc52"/><path d="M383.0,95.0Q352.4,94.3 357.0,64.0Q370.0,79.5 383.0,95.0Z" fill="#1e732e"/><path d="M383.0,95.0Q370.0,79.5 357.0,64.0" stroke="#50c868" stroke-width="0.7" fill="none" opacity="0.6"/>
<path d="M402.0,43.0Q397.5,68.3 423.0,65.0Q412.5,54.0 402.0,43.0Z" fill="#0b351c"/><path d="M402.0,43.0Q427.5,39.7 423.0,65.0Q412.5,54.0 402.0,43.0Z" fill="#1d5d37"/>
<path d="M415.0,134.0Q458.0,107.3 440.0,60.0Q427.5,97.0 415.0,134.0Z" fill="#0f391f"/><path d="M415.0,134.0Q397.0,86.7 440.0,60.0Q427.5,97.0 415.0,134.0Z" fill="#22633c"/><path d="M415.0,134.0Q427.5,97.0 440.0,60.0" stroke="#2a7a40" stroke-width="0.7" fill="none" opacity="0.6"/>
<path d="M432.0,124.0Q438.6,81.7 398.0,68.0Q415.0,96.0 432.0,124.0Z" fill="#28b57e"/><path d="M432.0,124.0Q391.4,110.3 398.0,68.0Q415.0,96.0 432.0,124.0Z" fill="#126e4a"/><path d="M432.0,124.0Q415.0,96.0 398.0,68.0" stroke="#40c890" stroke-width="0.7" fill="none" opacity="0.6"/>
<path d="M440.0,87.0Q482.7,85.0 475.0,43.0Q457.5,65.0 440.0,87.0Z" fill="#0a3519"/><path d="M440.0,87.0Q432.3,45.0 475.0,43.0Q457.5,65.0 440.0,87.0Z" fill="#1a5d33"/>
<path d="M449.0,81.0Q467.2,85.9 481.0,73.0Q465.0,77.0 449.0,81.0Z" fill="#22732e"/><path d="M449.0,81.0Q462.8,68.1 481.0,73.0Q465.0,77.0 449.0,81.0Z" fill="#40bc52"/>
<path d="M445.0,112.0Q467.2,117.1 478.0,97.0Q461.5,104.5 445.0,112.0Z" fill="#176328"/><path d="M445.0,112.0Q455.8,91.9 478.0,97.0Q461.5,104.5 445.0,112.0Z" fill="#2ea349"/>
<path d="M476.0,90.0Q498.2,82.6 492.0,60.0Q484.0,75.0 476.0,90.0Z" fill="#176729"/><path d="M476.0,90.0Q469.8,67.4 492.0,60.0Q484.0,75.0 476.0,90.0Z" fill="#2eaa4b"/>
<path d="M486.0,59.0Q510.9,67.2 525.0,45.0Q505.5,52.0 486.0,59.0Z" fill="#126322"/><path d="M486.0,59.0Q500.1,36.8 525.0,45.0Q505.5,52.0 486.0,59.0Z" fill="#28a340"/>
<path d="M492.0,128.0Q532.5,119.1 522.0,79.0Q507.0,103.5 492.0,128.0Z" fill="#126328"/><path d="M492.0,128.0Q481.5,87.9 522.0,79.0Q507.0,103.5 492.0,128.0Z" fill="#28a349"/><path d="M492.0,128.0Q507.0,103.5 522.0,79.0" stroke="#50c060" stroke-width="0.7" fill="none" opacity="0.6"/>
<path d="M506.0,92.0Q536.6,89.0 530.0,59.0Q518.0,75.5 506.0,92.0Z" fill="#227e33"/><path d="M506.0,92.0Q499.4,62.0 530.0,59.0Q518.0,75.5 506.0,92.0Z" fill="#40cd5b"/><path d="M506.0,92.0Q518.0,75.5 530.0,59.0" stroke="#70e080" stroke-width="0.7" fill="none" opacity="0.6"/>
<path d="M530.0,86.0Q574.8,91.0 572.0,46.0Q551.0,66.0 530.0,86.0Z" fill="#1c732e"/><path d="M530.0,86.0Q527.2,41.0 572.0,46.0Q551.0,66.0 530.0,86.0Z" fill="#37bc52"/><path d="M530.0,86.0Q551.0,66.0 572.0,46.0" stroke="#1a7a30" stroke-width="0.7" fill="none" opacity="0.6"/>
<path d="M556.0,128.0Q598.5,110.8 582.0,68.0Q569.0,98.0 556.0,128.0Z" fill="#227e2e"/><path d="M556.0,128.0Q539.5,85.2 582.0,68.0Q569.0,98.0 556.0,128.0Z" fill="#40cd52"/><path d="M556.0,128.0Q569.0,98.0 582.0,68.0" stroke="#70e070" stroke-width="0.7" fill="none" opacity="0.6"/>
<path d="M525.0,100.0Q547.9,106.3 556.0,84.0Q540.5,92.0 525.0,100.0Z" fill="#227e33"/><path d="M525.0,100.0Q533.1,77.7 556.0,84.0Q540.5,92.0 525.0,100.0Z" fill="#40cd5b"/>
<path d="M593.0,87.0Q616.8,68.1 605.0,40.0Q599.0,63.5 593.0,87.0Z" fill="#227e2e"/><path d="M593.0,87.0Q581.2,58.9 605.0,40.0Q599.0,63.5 593.0,87.0Z" fill="#40cd52"/>
<path d="M603.0,80.0Q632.5,54.9 612.0,22.0Q607.5,51.0 603.0,80.0Z" fill="#217d30"/><path d="M603.0,80.0Q582.5,47.1 612.0,22.0Q607.5,51.0 603.0,80.0Z" fill="#3ecb56"/><path d="M603.0,80.0Q607.5,51.0 612.0,22.0" stroke="#70e070" stroke-width="0.7" fill="none" opacity="0.6"/>
<path d="M577.0,120.0Q612.7,109.4 605.0,73.0Q591.0,96.5 577.0,120.0Z" fill="#125722"/><path d="M577.0,120.0Q569.3,83.6 605.0,73.0Q591.0,96.5 577.0,120.0Z" fill="#289240"/><path d="M577.0,120.0Q591.0,96.5 605.0,73.0" stroke="#40b050" stroke-width="0.7" fill="none" opacity="0.6"/>
<path d="M600.0,84.0Q630.6,71.1 619.0,40.0Q609.5,62.0 600.0,84.0Z" fill="#227e2e"/><path d="M600.0,84.0Q588.4,52.9 619.0,40.0Q609.5,62.0 600.0,84.0Z" fill="#40cd52"/><path d="M600.0,84.0Q609.5,62.0 619.0,40.0" stroke="#70e070" stroke-width="0.7" fill="none" opacity="0.6"/>
<path d="M617.0,71.0Q650.2,73.1 647.0,40.0Q632.0,55.5 617.0,71.0Z" fill="#124c22"/><path d="M617.0,71.0Q613.8,37.9 647.0,40.0Q632.0,55.5 617.0,71.0Z" fill="#288040"/>
<path d="M650.0,75.0Q684.8,73.1 674.0,40.0Q662.0,57.5 650.0,75.0Z" fill="#227e2e"/><path d="M650.0,75.0Q639.2,41.9 674.0,40.0Q662.0,57.5 650.0,75.0Z" fill="#40cd52"/><path d="M650.0,75.0Q662.0,57.5 674.0,40.0" stroke="#70e070" stroke-width="0.7" fill="none" opacity="0.6"/>
<path d="M609.0,106.0Q653.4,115.4 674.0,75.0Q641.5,90.5 609.0,106.0Z" fill="#16673f"/><path d="M609.0,106.0Q629.6,65.6 674.0,75.0Q641.5,90.5 609.0,106.0Z" fill="#2daa6c"/><path d="M609.0,106.0Q641.5,90.5 674.0,75.0" stroke="#0e5a30" stroke-width="0.7" fill="none" opacity="0.6"/>
<path d="M652.0,119.0Q681.7,122.9 680.0,93.0Q666.0,106.0 652.0,119.0Z" fill="#22732e"/><path d="M652.0,119.0Q650.3,89.1 680.0,93.0Q666.0,106.0 652.0,119.0Z" fill="#40bc52"/>
<path d="M357.0,125.0Q388.1,122.7 383.0,92.0Q370.0,108.5 357.0,125.0Z" fill="#1e351c"/><path d="M357.0,125.0Q351.9,94.3 383.0,92.0Q370.0,108.5 357.0,125.0Z" fill="#395d37"/><path d="M357.0,125.0Q370.0,108.5 383.0,92.0" stroke="#4a7a48" stroke-width="0.7" fill="none" opacity="0.6"/>
<path d="M429.0,153.0Q450.0,151.5 445.0,131.0Q437.0,142.0 429.0,153.0Z" fill="#1e572e"/><path d="M429.0,153.0Q424.0,132.5 445.0,131.0Q437.0,142.0 429.0,153.0Z" fill="#399252"/>
<path d="M446.0,167.0Q477.0,177.0 487.0,146.0Q466.5,156.5 446.0,167.0Z" fill="#0a2917"/><path d="M446.0,167.0Q456.0,136.0 487.0,146.0Q466.5,156.5 446.0,167.0Z" fill="#1a4b2e"/><path d="M446.0,167.0Q466.5,156.5 487.0,146.0" stroke="#30a050" stroke-width="0.7" fill="none" opacity="0.6"/>
<path d="M440.0,137.0Q465.9,140.8 470.0,115.0Q455.0,126.0 440.0,137.0Z" fill="#1e5728"/><path d="M440.0,137.0Q444.1,111.2 470.0,115.0Q455.0,126.0 440.0,137.0Z" fill="#399249"/><path d="M440.0,137.0Q455.0,126.0 470.0,115.0" stroke="#50a050" stroke-width="0.7" fill="none" opacity="0.6"/>
<path d="M525.0,153.0Q569.8,137.8 558.0,92.0Q541.5,122.5 525.0,153.0Z" fill="#071c0e"/><path d="M525.0,153.0Q513.2,107.2 558.0,92.0Q541.5,122.5 525.0,153.0Z" fill="#163721"/>
<path d="M561.0,156.0Q601.3,162.7 605.0,122.0Q583.0,139.0 561.0,156.0Z" fill="#227e2e"/><path d="M561.0,156.0Q564.7,115.3 605.0,122.0Q583.0,139.0 561.0,156.0Z" fill="#40cd52"/><path d="M561.0,156.0Q583.0,139.0 605.0,122.0" stroke="#70e070" stroke-width="0.7" fill="none" opacity="0.6"/>
<path d="M600.0,160.0Q621.2,154.6 614.0,134.0Q607.0,147.0 600.0,160.0Z" fill="#227e2e"/><path d="M600.0,160.0Q592.8,139.4 614.0,134.0Q607.0,147.0 600.0,160.0Z" fill="#40cd52"/>
<path d="M674.0,167.0 L674.0,119.0" stroke="#30a040" stroke-width="1.6" fill="none"/>
<path d="M395.0,168.0 L392.0,130.0" stroke="#102818" stroke-width="2" fill="none"/>
<path d="M565.0,168.0 L562.0,130.0" stroke="#123018" stroke-width="2" fill="none"/></g>
<rect x="9" y="19" width="158.6" height="21" fill="#fff"/>
<rect x="355" y="18" width="121.4" height="25" fill="#fff"/>
<rect x="355" y="18" width="1.2" height="25" fill="#8a90b8" opacity="0.8"/>
<text x="18.2" y="31.5" font-size="13" font-weight="bold" fill="#111" textLength="134.8" lengthAdjust="spacingAndGlyphs">White light (Control)</text>
<text x="366.8" y="34.5" font-size="12.5" font-weight="bold" fill="#111" textLength="95.4" lengthAdjust="spacingAndGlyphs">UV-B radiation</text>
<text x="0.4" y="14" font-size="17.5" fill="#111" stroke="#111" stroke-width="0.55">(a)</text>
<text x="1.3" y="182.8" font-size="17.5" fill="#111" stroke="#111" stroke-width="0.55">(b)</text>
<text x="341.6" y="384" font-size="17.5" fill="#111" stroke="#111" stroke-width="0.55">(c)</text>
<text x="6.8" y="605" font-size="17.5" fill="#111" stroke="#111" stroke-width="0.55">(d)</text>
<text x="348" y="604.1" font-size="17.5" fill="#111" stroke="#111" stroke-width="0.55">(e)</text>
<line x1="69.2" y1="192.0" x2="69.2" y2="331.5" stroke="#868686" stroke-width="1.6"/>
<line x1="64.6" y1="331.0" x2="69.2" y2="331.0" stroke="#868686" stroke-width="1.5"/>
<text x="47.3" y="335.2" font-size="11.6" fill="#404040" textLength="7.2" lengthAdjust="spacingAndGlyphs" >0</text>
<line x1="64.6" y1="303.2" x2="69.2" y2="303.2" stroke="#868686" stroke-width="1.5"/>
<text x="28.9" y="307.4" font-size="11.6" fill="#404040" textLength="25.6" lengthAdjust="spacingAndGlyphs" >0.09</text>
<line x1="64.6" y1="275.4" x2="69.2" y2="275.4" stroke="#868686" stroke-width="1.5"/>
<text x="28.9" y="279.6" font-size="11.6" fill="#404040" textLength="25.6" lengthAdjust="spacingAndGlyphs" >0.18</text>
<line x1="64.6" y1="247.6" x2="69.2" y2="247.6" stroke="#868686" stroke-width="1.5"/>
<text x="28.9" y="251.8" font-size="11.6" fill="#404040" textLength="25.6" lengthAdjust="spacingAndGlyphs" >0.27</text>
<line x1="64.6" y1="219.8" x2="69.2" y2="219.8" stroke="#868686" stroke-width="1.5"/>
<text x="28.9" y="224.0" font-size="11.6" fill="#404040" textLength="25.6" lengthAdjust="spacingAndGlyphs" >0.36</text>
<line x1="64.6" y1="192.0" x2="69.2" y2="192.0" stroke="#868686" stroke-width="1.5"/>
<text x="28.9" y="196.2" font-size="11.6" fill="#404040" textLength="25.6" lengthAdjust="spacingAndGlyphs" >0.45</text>
<line x1="64.6" y1="331.0" x2="323.6" y2="331.0" stroke="#939393" stroke-width="1.9"/>
<line x1="69.2" y1="331.0" x2="69.2" y2="334.9" stroke="#868686" stroke-width="1.5"/>
<line x1="132.8" y1="331.0" x2="132.8" y2="334.9" stroke="#868686" stroke-width="1.5"/>
<line x1="196.4" y1="331.0" x2="196.4" y2="334.9" stroke="#868686" stroke-width="1.5"/>
<line x1="260.0" y1="331.0" x2="260.0" y2="334.9" stroke="#868686" stroke-width="1.5"/>
<line x1="323.6" y1="331.0" x2="323.6" y2="334.9" stroke="#868686" stroke-width="1.5"/>
<text x="97.4" y="350.8" font-size="11.6" fill="#404040" textLength="7.2" lengthAdjust="spacingAndGlyphs" >0</text>
<text x="157.4" y="350.8" font-size="11.6" fill="#404040" textLength="14.4" lengthAdjust="spacingAndGlyphs" >24</text>
<text x="221.0" y="350.8" font-size="11.6" fill="#404040" textLength="14.4" lengthAdjust="spacingAndGlyphs" >48</text>
<text x="284.6" y="350.8" font-size="11.6" fill="#404040" textLength="14.4" lengthAdjust="spacingAndGlyphs" >96</text>
<text x="125.8" y="371.2" font-size="13" fill="#111" font-weight="bold" textLength="150.2" lengthAdjust="spacingAndGlyphs" >UV-B radiation time (h)</text>
<line x1="101.0" y1="277.2" x2="101.0" y2="288.5" stroke="#7a7a7a" stroke-width="1"/>
<line x1="97.9" y1="277.2" x2="104.1" y2="277.2" stroke="#7a7a7a" stroke-width="1.1"/>
<line x1="97.9" y1="288.5" x2="104.1" y2="288.5" stroke="#7a7a7a" stroke-width="1.1"/>
<line x1="164.6" y1="265.5" x2="164.6" y2="285.2" stroke="#7a7a7a" stroke-width="1"/>
<line x1="161.5" y1="265.5" x2="167.7" y2="265.5" stroke="#7a7a7a" stroke-width="1.1"/>
<line x1="161.5" y1="285.2" x2="167.7" y2="285.2" stroke="#7a7a7a" stroke-width="1.1"/>
<line x1="228.2" y1="239.4" x2="228.2" y2="245.0" stroke="#7a7a7a" stroke-width="1"/>
<line x1="225.1" y1="239.4" x2="231.3" y2="239.4" stroke="#7a7a7a" stroke-width="1.1"/>
<line x1="225.1" y1="245.0" x2="231.3" y2="245.0" stroke="#7a7a7a" stroke-width="1.1"/>
<line x1="291.8" y1="208.0" x2="291.8" y2="224.9" stroke="#7a7a7a" stroke-width="1"/>
<line x1="288.7" y1="208.0" x2="294.9" y2="208.0" stroke="#7a7a7a" stroke-width="1.1"/>
<line x1="288.7" y1="224.9" x2="294.9" y2="224.9" stroke="#7a7a7a" stroke-width="1.1"/>
<path d="M101.0,282.5 L164.6,275.2 L228.2,242.0 L291.8,216.3" fill="none" stroke="#4a6cc6" stroke-width="2.6" stroke-linejoin="round"/>
<circle cx="101.0" cy="282.5" r="2.6" fill="#4a6cc6"/>
<circle cx="164.6" cy="275.2" r="2.6" fill="#4a6cc6"/>
<circle cx="228.2" cy="242.0" r="2.6" fill="#4a6cc6"/>
<circle cx="291.8" cy="216.3" r="2.6" fill="#4a6cc6"/>
<line x1="101.0" y1="306.4" x2="101.0" y2="315.8" stroke="#7a7a7a" stroke-width="1"/>
<line x1="97.9" y1="306.4" x2="104.1" y2="306.4" stroke="#7a7a7a" stroke-width="1.1"/>
<line x1="97.9" y1="315.8" x2="104.1" y2="315.8" stroke="#7a7a7a" stroke-width="1.1"/>
<line x1="164.6" y1="298.0" x2="164.6" y2="313.3" stroke="#7a7a7a" stroke-width="1"/>
<line x1="161.5" y1="298.0" x2="167.7" y2="298.0" stroke="#7a7a7a" stroke-width="1.1"/>
<line x1="161.5" y1="313.3" x2="167.7" y2="313.3" stroke="#7a7a7a" stroke-width="1.1"/>
<line x1="228.2" y1="297.0" x2="228.2" y2="310.0" stroke="#7a7a7a" stroke-width="1"/>
<line x1="225.1" y1="297.0" x2="231.3" y2="297.0" stroke="#7a7a7a" stroke-width="1.1"/>
<line x1="225.1" y1="310.0" x2="231.3" y2="310.0" stroke="#7a7a7a" stroke-width="1.1"/>
<line x1="291.8" y1="292.0" x2="291.8" y2="308.0" stroke="#7a7a7a" stroke-width="1"/>
<line x1="288.7" y1="292.0" x2="294.9" y2="292.0" stroke="#7a7a7a" stroke-width="1.1"/>
<line x1="288.7" y1="308.0" x2="294.9" y2="308.0" stroke="#7a7a7a" stroke-width="1.1"/>
<path d="M101.0,310.6 L164.6,304.4 L228.2,303.9 L291.8,300.2" fill="none" stroke="#ed7d31" stroke-width="2.6" stroke-linejoin="round"/>
<circle cx="101.0" cy="310.6" r="2.6" fill="#ed7d31"/>
<circle cx="164.6" cy="304.4" r="2.6" fill="#ed7d31"/>
<circle cx="228.2" cy="303.9" r="2.6" fill="#ed7d31"/>
<circle cx="291.8" cy="300.2" r="2.6" fill="#ed7d31"/>
<path d="M164.60,257.60L164.60,264.40M161.66,259.30L167.54,262.70M167.54,259.30L161.66,262.70" stroke="#404040" stroke-width="1.15" fill="none"/>
<path d="M222.80,233.90L222.80,240.70M219.86,235.60L225.74,239.00M225.74,235.60L219.86,239.00" stroke="#404040" stroke-width="1.15" fill="none"/>
<path d="M233.30,233.90L233.30,240.70M230.36,235.60L236.24,239.00M236.24,235.60L230.36,239.00" stroke="#404040" stroke-width="1.15" fill="none"/>
<path d="M287.60,201.60L287.60,208.40M284.66,203.30L290.54,206.70M290.54,203.30L284.66,206.70" stroke="#404040" stroke-width="1.15" fill="none"/>
<path d="M298.00,201.60L298.00,208.40M295.06,203.30L300.94,206.70M300.94,203.30L295.06,206.70" stroke="#404040" stroke-width="1.15" fill="none"/>
<path d="M164.60,289.40L164.60,296.20M161.66,291.10L167.54,294.50M167.54,291.10L161.66,294.50" stroke="#404040" stroke-width="1.15" fill="none"/>
<path d="M228.20,291.20L228.20,298.00M225.26,292.90L231.14,296.30M231.14,292.90L225.26,296.30" stroke="#404040" stroke-width="1.15" fill="none"/>
<path d="M291.80,285.00L291.80,291.80M288.86,286.70L294.74,290.10M294.74,286.70L288.86,290.10" stroke="#404040" stroke-width="1.15" fill="none"/>
<line x1="79.0" y1="196.0" x2="104.5" y2="196.0" stroke="#4a6cc6" stroke-width="2.2"/>
<circle cx="92" cy="196" r="2" fill="#4a6cc6"/>
<line x1="79.0" y1="213.4" x2="104.5" y2="213.4" stroke="#ed7d31" stroke-width="2.2"/>
<circle cx="92" cy="213.4" r="2" fill="#ed7d31"/>
<text x="115.3" y="204.0" font-size="12.5" fill="#1f1d8f" font-weight="bold" textLength="62.5" lengthAdjust="spacingAndGlyphs" >K-3-<tspan font-style="italic">O</tspan>-Glu</text>
<text x="115.3" y="221.4" font-size="12.5" fill="#1f1d8f" font-weight="bold" textLength="64.2" lengthAdjust="spacingAndGlyphs" >Q-3-<tspan font-style="italic">O</tspan>-Gal</text>
<text transform="translate(18,318.1) rotate(-90)" font-size="13.5" font-weight="bold" fill="#111" textLength="124.7" lengthAdjust="spacingAndGlyphs">Flavonols (mg/g FW)</text>
<line x1="416.5" y1="184.6" x2="416.5" y2="336.2" stroke="#868686" stroke-width="1.6"/>
<line x1="411.9" y1="335.7" x2="416.5" y2="335.7" stroke="#868686" stroke-width="1.5"/>
<text x="395.3" y="339.9" font-size="11.6" fill="#404040" textLength="7.2" lengthAdjust="spacingAndGlyphs" >0</text>
<line x1="411.9" y1="305.5" x2="416.5" y2="305.5" stroke="#868686" stroke-width="1.5"/>
<text x="384.1" y="309.7" font-size="11.6" fill="#404040" textLength="18.4" lengthAdjust="spacingAndGlyphs" >0.1</text>
<line x1="411.9" y1="275.3" x2="416.5" y2="275.3" stroke="#868686" stroke-width="1.5"/>
<text x="384.1" y="279.5" font-size="11.6" fill="#404040" textLength="18.4" lengthAdjust="spacingAndGlyphs" >0.2</text>
<line x1="411.9" y1="245.0" x2="416.5" y2="245.0" stroke="#868686" stroke-width="1.5"/>
<text x="384.1" y="249.2" font-size="11.6" fill="#404040" textLength="18.4" lengthAdjust="spacingAndGlyphs" >0.3</text>
<line x1="411.9" y1="214.8" x2="416.5" y2="214.8" stroke="#868686" stroke-width="1.5"/>
<text x="384.1" y="219.0" font-size="11.6" fill="#404040" textLength="18.4" lengthAdjust="spacingAndGlyphs" >0.4</text>
<line x1="411.9" y1="184.6" x2="416.5" y2="184.6" stroke="#868686" stroke-width="1.5"/>
<text x="384.1" y="188.8" font-size="11.6" fill="#404040" textLength="18.4" lengthAdjust="spacingAndGlyphs" >0.5</text>
<line x1="411.9" y1="335.7" x2="674.1" y2="335.7" stroke="#939393" stroke-width="1.9"/>
<line x1="416.5" y1="335.7" x2="416.5" y2="339.6" stroke="#868686" stroke-width="1.5"/>
<line x1="480.9" y1="335.7" x2="480.9" y2="339.6" stroke="#868686" stroke-width="1.5"/>
<line x1="545.3" y1="335.7" x2="545.3" y2="339.6" stroke="#868686" stroke-width="1.5"/>
<line x1="609.7" y1="335.7" x2="609.7" y2="339.6" stroke="#868686" stroke-width="1.5"/>
<line x1="674.1" y1="335.7" x2="674.1" y2="339.6" stroke="#868686" stroke-width="1.5"/>
<text x="445.1" y="354.3" font-size="11.6" fill="#404040" textLength="7.2" lengthAdjust="spacingAndGlyphs" >0</text>
<text x="505.9" y="354.3" font-size="11.6" fill="#404040" textLength="14.4" lengthAdjust="spacingAndGlyphs" >24</text>
<text x="570.3" y="354.3" font-size="11.6" fill="#404040" textLength="14.4" lengthAdjust="spacingAndGlyphs" >48</text>
<text x="634.7" y="354.3" font-size="11.6" fill="#404040" textLength="14.4" lengthAdjust="spacingAndGlyphs" >96</text>
<text x="482.0" y="371.7" font-size="13" fill="#111" font-weight="bold" textLength="152.7" lengthAdjust="spacingAndGlyphs" >UV-B radiation time (h)</text>
<line x1="448.7" y1="263.5" x2="448.7" y2="274.0" stroke="#7a7a7a" stroke-width="1"/>
<line x1="445.6" y1="263.5" x2="451.8" y2="263.5" stroke="#7a7a7a" stroke-width="1.1"/>
<line x1="445.6" y1="274.0" x2="451.8" y2="274.0" stroke="#7a7a7a" stroke-width="1.1"/>
<line x1="513.1" y1="217.5" x2="513.1" y2="225.0" stroke="#7a7a7a" stroke-width="1"/>
<line x1="510.0" y1="217.5" x2="516.2" y2="217.5" stroke="#7a7a7a" stroke-width="1.1"/>
<line x1="510.0" y1="225.0" x2="516.2" y2="225.0" stroke="#7a7a7a" stroke-width="1.1"/>
<line x1="577.5" y1="221.0" x2="577.5" y2="228.0" stroke="#7a7a7a" stroke-width="1"/>
<line x1="574.4" y1="221.0" x2="580.6" y2="221.0" stroke="#7a7a7a" stroke-width="1.1"/>
<line x1="574.4" y1="228.0" x2="580.6" y2="228.0" stroke="#7a7a7a" stroke-width="1.1"/>
<line x1="641.9" y1="205.4" x2="641.9" y2="214.8" stroke="#7a7a7a" stroke-width="1"/>
<line x1="638.8" y1="205.4" x2="645.0" y2="205.4" stroke="#7a7a7a" stroke-width="1.1"/>
<line x1="638.8" y1="214.8" x2="645.0" y2="214.8" stroke="#7a7a7a" stroke-width="1.1"/>
<path d="M448.7,268.7 L513.1,221.1 L577.5,224.5 L641.9,210.4" fill="none" stroke="#4f81bd" stroke-width="2.6" stroke-linejoin="round"/>
<circle cx="448.7" cy="268.7" r="2.6" fill="#4f81bd"/>
<circle cx="513.1" cy="221.1" r="2.6" fill="#4f81bd"/>
<circle cx="577.5" cy="224.5" r="2.6" fill="#4f81bd"/>
<circle cx="641.9" cy="210.4" r="2.6" fill="#4f81bd"/>
<line x1="448.7" y1="316.0" x2="448.7" y2="328.0" stroke="#7a7a7a" stroke-width="1"/>
<line x1="445.6" y1="316.0" x2="451.8" y2="316.0" stroke="#7a7a7a" stroke-width="1.1"/>
<line x1="445.6" y1="328.0" x2="451.8" y2="328.0" stroke="#7a7a7a" stroke-width="1.1"/>
<line x1="513.1" y1="316.5" x2="513.1" y2="327.0" stroke="#7a7a7a" stroke-width="1"/>
<line x1="510.0" y1="316.5" x2="516.2" y2="316.5" stroke="#7a7a7a" stroke-width="1.1"/>
<line x1="510.0" y1="327.0" x2="516.2" y2="327.0" stroke="#7a7a7a" stroke-width="1.1"/>
<line x1="577.5" y1="316.0" x2="577.5" y2="323.5" stroke="#7a7a7a" stroke-width="1"/>
<line x1="574.4" y1="316.0" x2="580.6" y2="316.0" stroke="#7a7a7a" stroke-width="1.1"/>
<line x1="574.4" y1="323.5" x2="580.6" y2="323.5" stroke="#7a7a7a" stroke-width="1.1"/>
<line x1="641.9" y1="311.0" x2="641.9" y2="325.0" stroke="#7a7a7a" stroke-width="1"/>
<line x1="638.8" y1="311.0" x2="645.0" y2="311.0" stroke="#7a7a7a" stroke-width="1.1"/>
<line x1="638.8" y1="325.0" x2="645.0" y2="325.0" stroke="#7a7a7a" stroke-width="1.1"/>
<path d="M448.7,321.8 L513.1,321.6 L577.5,319.8 L641.9,318.0" fill="none" stroke="#c0504d" stroke-width="2.6" stroke-linejoin="round"/>
<circle cx="448.7" cy="321.8" r="2.6" fill="#c0504d"/>
<circle cx="513.1" cy="321.6" r="2.6" fill="#c0504d"/>
<circle cx="577.5" cy="319.8" r="2.6" fill="#c0504d"/>
<circle cx="641.9" cy="318.0" r="2.6" fill="#c0504d"/>
<path d="M513.10,211.00L513.10,217.80M510.16,212.70L516.04,216.10M516.04,212.70L510.16,216.10" stroke="#404040" stroke-width="1.15" fill="none"/>
<path d="M577.50,215.20L577.50,222.00M574.56,216.90L580.44,220.30M580.44,216.90L574.56,220.30" stroke="#404040" stroke-width="1.15" fill="none"/>
<path d="M637.60,197.80L637.60,204.60M634.66,199.50L640.54,202.90M640.54,199.50L634.66,202.90" stroke="#404040" stroke-width="1.15" fill="none"/>
<path d="M647.60,197.80L647.60,204.60M644.66,199.50L650.54,202.90M650.54,199.50L644.66,202.90" stroke="#404040" stroke-width="1.15" fill="none"/>
<path d="M641.90,306.60L641.90,313.40M638.96,308.30L644.84,311.70M644.84,308.30L638.96,311.70" stroke="#404040" stroke-width="1.15" fill="none"/>
<line x1="429.7" y1="186.7" x2="453.7" y2="186.7" stroke="#4f81bd" stroke-width="2.2"/>
<circle cx="442" cy="186.7" r="2.3" fill="#4f81bd"/>
<line x1="429.7" y1="200.0" x2="453.7" y2="200.0" stroke="#c0504d" stroke-width="2.2"/>
<circle cx="442" cy="200" r="2.3" fill="#c0504d"/>
<text x="464.2" y="189.2" font-size="12.5" fill="#1f1d8f" font-weight="bold" textLength="61.8" lengthAdjust="spacingAndGlyphs" >K-7-<tspan font-style="italic">O</tspan>-Glu</text>
<text x="464.2" y="206.3" font-size="12.5" fill="#1f1d8f" font-weight="bold" textLength="66.6" lengthAdjust="spacingAndGlyphs" >M-3-<tspan font-style="italic">O</tspan>-Gal</text>
<text transform="translate(370.8,318.1) rotate(-90)" font-size="13.5" font-weight="bold" fill="#111" textLength="124.1" lengthAdjust="spacingAndGlyphs">Flavonols (mg/g FW)</text>
<line x1="70.0" y1="392.9" x2="70.0" y2="543.2" stroke="#868686" stroke-width="1.6"/>
<line x1="65.4" y1="542.7" x2="70.0" y2="542.7" stroke="#868686" stroke-width="1.5"/>
<text x="48.0" y="546.9" font-size="11.6" fill="#404040" textLength="7.2" lengthAdjust="spacingAndGlyphs" >0</text>
<line x1="65.4" y1="524.0" x2="70.0" y2="524.0" stroke="#868686" stroke-width="1.5"/>
<text x="36.8" y="528.2" font-size="11.6" fill="#404040" textLength="18.4" lengthAdjust="spacingAndGlyphs" >0.5</text>
<line x1="65.4" y1="505.2" x2="70.0" y2="505.2" stroke="#868686" stroke-width="1.5"/>
<text x="48.0" y="509.4" font-size="11.6" fill="#404040" textLength="7.2" lengthAdjust="spacingAndGlyphs" >1</text>
<line x1="65.4" y1="486.5" x2="70.0" y2="486.5" stroke="#868686" stroke-width="1.5"/>
<text x="36.8" y="490.7" font-size="11.6" fill="#404040" textLength="18.4" lengthAdjust="spacingAndGlyphs" >1.5</text>
<line x1="65.4" y1="467.8" x2="70.0" y2="467.8" stroke="#868686" stroke-width="1.5"/>
<text x="48.0" y="472.0" font-size="11.6" fill="#404040" textLength="7.2" lengthAdjust="spacingAndGlyphs" >2</text>
<line x1="65.4" y1="449.1" x2="70.0" y2="449.1" stroke="#868686" stroke-width="1.5"/>
<text x="36.8" y="453.3" font-size="11.6" fill="#404040" textLength="18.4" lengthAdjust="spacingAndGlyphs" >2.5</text>
<line x1="65.4" y1="430.4" x2="70.0" y2="430.4" stroke="#868686" stroke-width="1.5"/>
<text x="48.0" y="434.6" font-size="11.6" fill="#404040" textLength="7.2" lengthAdjust="spacingAndGlyphs" >3</text>
<line x1="65.4" y1="411.6" x2="70.0" y2="411.6" stroke="#868686" stroke-width="1.5"/>
<text x="36.8" y="415.8" font-size="11.6" fill="#404040" textLength="18.4" lengthAdjust="spacingAndGlyphs" >3.5</text>
<line x1="65.4" y1="392.9" x2="70.0" y2="392.9" stroke="#868686" stroke-width="1.5"/>
<text x="48.0" y="397.1" font-size="11.6" fill="#404040" textLength="7.2" lengthAdjust="spacingAndGlyphs" >4</text>
<line x1="65.4" y1="542.7" x2="302.8" y2="542.7" stroke="#939393" stroke-width="1.9"/>
<line x1="70.0" y1="542.7" x2="70.0" y2="546.6" stroke="#868686" stroke-width="1.5"/>
<line x1="128.2" y1="542.7" x2="128.2" y2="546.6" stroke="#868686" stroke-width="1.5"/>
<line x1="186.4" y1="542.7" x2="186.4" y2="546.6" stroke="#868686" stroke-width="1.5"/>
<line x1="244.6" y1="542.7" x2="244.6" y2="546.6" stroke="#868686" stroke-width="1.5"/>
<line x1="302.8" y1="542.7" x2="302.8" y2="546.6" stroke="#868686" stroke-width="1.5"/>
<text x="95.5" y="562.8" font-size="11.6" fill="#404040" textLength="7.2" lengthAdjust="spacingAndGlyphs" >0</text>
<text x="150.1" y="562.8" font-size="11.6" fill="#404040" textLength="14.4" lengthAdjust="spacingAndGlyphs" >24</text>
<text x="208.3" y="562.8" font-size="11.6" fill="#404040" textLength="14.4" lengthAdjust="spacingAndGlyphs" >48</text>
<text x="266.5" y="562.8" font-size="11.6" fill="#404040" textLength="14.4" lengthAdjust="spacingAndGlyphs" >96</text>
<text x="121.9" y="579.5" font-size="13" fill="#111" font-weight="bold" textLength="150.6" lengthAdjust="spacingAndGlyphs" >UV-B radiation time (h)</text>
<line x1="99.1" y1="467.0" x2="99.1" y2="486.0" stroke="#7a7a7a" stroke-width="1"/>
<line x1="96.0" y1="467.0" x2="102.2" y2="467.0" stroke="#7a7a7a" stroke-width="1.1"/>
<line x1="96.0" y1="486.0" x2="102.2" y2="486.0" stroke="#7a7a7a" stroke-width="1.1"/>
<line x1="157.3" y1="470.6" x2="157.3" y2="481.3" stroke="#7a7a7a" stroke-width="1"/>
<line x1="154.2" y1="470.6" x2="160.4" y2="470.6" stroke="#7a7a7a" stroke-width="1.1"/>
<line x1="154.2" y1="481.3" x2="160.4" y2="481.3" stroke="#7a7a7a" stroke-width="1.1"/>
<line x1="215.5" y1="463.0" x2="215.5" y2="475.5" stroke="#7a7a7a" stroke-width="1"/>
<line x1="212.4" y1="463.0" x2="218.6" y2="463.0" stroke="#7a7a7a" stroke-width="1.1"/>
<line x1="212.4" y1="475.5" x2="218.6" y2="475.5" stroke="#7a7a7a" stroke-width="1.1"/>
<line x1="273.7" y1="455.6" x2="273.7" y2="475.2" stroke="#7a7a7a" stroke-width="1"/>
<line x1="270.6" y1="455.6" x2="276.8" y2="455.6" stroke="#7a7a7a" stroke-width="1.1"/>
<line x1="270.6" y1="475.2" x2="276.8" y2="475.2" stroke="#7a7a7a" stroke-width="1.1"/>
<path d="M99.1,476.0 L157.3,475.7 L215.5,468.9 L273.7,465.0" fill="none" stroke="#4f81bd" stroke-width="2.6" stroke-linejoin="round"/>
<circle cx="99.1" cy="476.0" r="2.6" fill="#4f81bd"/>
<circle cx="157.3" cy="475.7" r="2.6" fill="#4f81bd"/>
<circle cx="215.5" cy="468.9" r="2.6" fill="#4f81bd"/>
<circle cx="273.7" cy="465.0" r="2.6" fill="#4f81bd"/>
<line x1="99.1" y1="440.3" x2="99.1" y2="448.9" stroke="#7a7a7a" stroke-width="1"/>
<line x1="96.0" y1="440.3" x2="102.2" y2="440.3" stroke="#7a7a7a" stroke-width="1.1"/>
<line x1="96.0" y1="448.9" x2="102.2" y2="448.9" stroke="#7a7a7a" stroke-width="1.1"/>
<line x1="157.3" y1="429.1" x2="157.3" y2="443.7" stroke="#7a7a7a" stroke-width="1"/>
<line x1="154.2" y1="429.1" x2="160.4" y2="429.1" stroke="#7a7a7a" stroke-width="1.1"/>
<line x1="154.2" y1="443.7" x2="160.4" y2="443.7" stroke="#7a7a7a" stroke-width="1.1"/>
<line x1="215.5" y1="419.2" x2="215.5" y2="434.6" stroke="#7a7a7a" stroke-width="1"/>
<line x1="212.4" y1="419.2" x2="218.6" y2="419.2" stroke="#7a7a7a" stroke-width="1.1"/>
<line x1="212.4" y1="434.6" x2="218.6" y2="434.6" stroke="#7a7a7a" stroke-width="1.1"/>
<line x1="273.7" y1="417.0" x2="273.7" y2="428.0" stroke="#7a7a7a" stroke-width="1"/>
<line x1="270.6" y1="417.0" x2="276.8" y2="417.0" stroke="#7a7a7a" stroke-width="1.1"/>
<line x1="270.6" y1="428.0" x2="276.8" y2="428.0" stroke="#7a7a7a" stroke-width="1.1"/>
<path d="M99.1,444.5 L157.3,436.3 L215.5,426.9 L273.7,422.2" fill="none" stroke="#c0504d" stroke-width="2.6" stroke-linejoin="round"/>
<circle cx="99.1" cy="444.5" r="2.6" fill="#c0504d"/>
<circle cx="157.3" cy="436.3" r="2.6" fill="#c0504d"/>
<circle cx="215.5" cy="426.9" r="2.6" fill="#c0504d"/>
<circle cx="273.7" cy="422.2" r="2.6" fill="#c0504d"/>
<path d="M215.60,411.10L215.60,417.90M212.66,412.80L218.54,416.20M218.54,412.80L212.66,416.20" stroke="#404040" stroke-width="1.15" fill="none"/>
<path d="M268.00,408.30L268.00,415.10M265.06,410.00L270.94,413.40M270.94,410.00L265.06,413.40" stroke="#404040" stroke-width="1.15" fill="none"/>
<path d="M279.00,408.30L279.00,415.10M276.06,410.00L281.94,413.40M281.94,410.00L276.06,413.40" stroke="#404040" stroke-width="1.15" fill="none"/>
<path d="M215.60,455.60L215.60,462.40M212.66,457.30L218.54,460.70M218.54,457.30L212.66,460.70" stroke="#404040" stroke-width="1.15" fill="none"/>
<path d="M273.80,446.80L273.80,453.60M270.86,448.50L276.74,451.90M276.74,448.50L270.86,451.90" stroke="#404040" stroke-width="1.15" fill="none"/>
<line x1="85.3" y1="403.0" x2="108.4" y2="403.0" stroke="#4f81bd" stroke-width="2.2"/>
<circle cx="99.8" cy="403" r="2.3" fill="#4f81bd"/>
<line x1="85.3" y1="417.9" x2="108.4" y2="417.9" stroke="#c0504d" stroke-width="2.2"/>
<circle cx="99.8" cy="417.9" r="2.3" fill="#c0504d"/>
<text x="119.4" y="407.8" font-size="12.5" fill="#1f1d8f" font-weight="bold" textLength="66.6" lengthAdjust="spacingAndGlyphs" >M-3-<tspan font-style="italic">O</tspan>-Glu</text>
<text x="119.4" y="425.0" font-size="12.5" fill="#1f1d8f" font-weight="bold" textLength="64.3" lengthAdjust="spacingAndGlyphs" >Q-3-<tspan font-style="italic">O</tspan>-Glu</text>
<text transform="translate(22.8,531.6) rotate(-90)" font-size="13.5" font-weight="bold" fill="#111" textLength="124.9" lengthAdjust="spacingAndGlyphs">Flavonols (mg/g FW)</text>
<line x1="417.0" y1="400.1" x2="417.0" y2="540.7" stroke="#868686" stroke-width="1.6"/>
<line x1="412.4" y1="540.2" x2="417.0" y2="540.2" stroke="#868686" stroke-width="1.5"/>
<text x="395.8" y="544.4" font-size="11.6" fill="#404040" textLength="7.2" lengthAdjust="spacingAndGlyphs" >0</text>
<line x1="412.4" y1="505.2" x2="417.0" y2="505.2" stroke="#868686" stroke-width="1.5"/>
<text x="388.6" y="509.4" font-size="11.6" fill="#404040" textLength="14.4" lengthAdjust="spacingAndGlyphs" >10</text>
<line x1="412.4" y1="470.2" x2="417.0" y2="470.2" stroke="#868686" stroke-width="1.5"/>
<text x="388.6" y="474.4" font-size="11.6" fill="#404040" textLength="14.4" lengthAdjust="spacingAndGlyphs" >20</text>
<line x1="412.4" y1="435.1" x2="417.0" y2="435.1" stroke="#868686" stroke-width="1.5"/>
<text x="388.6" y="439.3" font-size="11.6" fill="#404040" textLength="14.4" lengthAdjust="spacingAndGlyphs" >30</text>
<line x1="412.4" y1="400.1" x2="417.0" y2="400.1" stroke="#868686" stroke-width="1.5"/>
<text x="388.6" y="404.3" font-size="11.6" fill="#404040" textLength="14.4" lengthAdjust="spacingAndGlyphs" >40</text>
<line x1="412.4" y1="540.2" x2="681.0" y2="540.2" stroke="#939393" stroke-width="1.9"/>
<line x1="417.0" y1="540.2" x2="417.0" y2="544.1" stroke="#868686" stroke-width="1.5"/>
<line x1="483.0" y1="540.2" x2="483.0" y2="544.1" stroke="#868686" stroke-width="1.5"/>
<line x1="549.0" y1="540.2" x2="549.0" y2="544.1" stroke="#868686" stroke-width="1.5"/>
<line x1="615.0" y1="540.2" x2="615.0" y2="544.1" stroke="#868686" stroke-width="1.5"/>
<line x1="681.0" y1="540.2" x2="681.0" y2="544.1" stroke="#868686" stroke-width="1.5"/>
<text x="446.4" y="560.5" font-size="11.6" fill="#404040" textLength="7.2" lengthAdjust="spacingAndGlyphs" >0</text>
<text x="508.8" y="560.5" font-size="11.6" fill="#404040" textLength="14.4" lengthAdjust="spacingAndGlyphs" >24</text>
<text x="574.8" y="560.5" font-size="11.6" fill="#404040" textLength="14.4" lengthAdjust="spacingAndGlyphs" >48</text>
<text x="640.8" y="560.5" font-size="11.6" fill="#404040" textLength="14.4" lengthAdjust="spacingAndGlyphs" >96</text>
<text x="485.8" y="575.0" font-size="13" fill="#111" font-weight="bold" textLength="151.6" lengthAdjust="spacingAndGlyphs" >UV-B radiation time (h)</text>
<line x1="450.0" y1="516.2" x2="450.0" y2="524.5" stroke="#7a7a7a" stroke-width="1"/>
<line x1="446.9" y1="516.2" x2="453.1" y2="516.2" stroke="#7a7a7a" stroke-width="1.1"/>
<line x1="446.9" y1="524.5" x2="453.1" y2="524.5" stroke="#7a7a7a" stroke-width="1.1"/>
<line x1="516.0" y1="492.3" x2="516.0" y2="501.9" stroke="#7a7a7a" stroke-width="1"/>
<line x1="512.9" y1="492.3" x2="519.1" y2="492.3" stroke="#7a7a7a" stroke-width="1.1"/>
<line x1="512.9" y1="501.9" x2="519.1" y2="501.9" stroke="#7a7a7a" stroke-width="1.1"/>
<line x1="582.0" y1="468.3" x2="582.0" y2="485.1" stroke="#7a7a7a" stroke-width="1"/>
<line x1="578.9" y1="468.3" x2="585.1" y2="468.3" stroke="#7a7a7a" stroke-width="1.1"/>
<line x1="578.9" y1="485.1" x2="585.1" y2="485.1" stroke="#7a7a7a" stroke-width="1.1"/>
<line x1="648.0" y1="421.8" x2="648.0" y2="437.9" stroke="#7a7a7a" stroke-width="1"/>
<line x1="644.9" y1="421.8" x2="651.1" y2="421.8" stroke="#7a7a7a" stroke-width="1.1"/>
<line x1="644.9" y1="437.9" x2="651.1" y2="437.9" stroke="#7a7a7a" stroke-width="1.1"/>
<path d="M450.0,520.2 L516.0,496.9 L582.0,476.2 L648.0,429.7" fill="none" stroke="#4f81bd" stroke-width="2.6" stroke-linejoin="round"/>
<circle cx="450.0" cy="520.2" r="2.6" fill="#4f81bd"/>
<circle cx="516.0" cy="496.9" r="2.6" fill="#4f81bd"/>
<circle cx="582.0" cy="476.2" r="2.6" fill="#4f81bd"/>
<circle cx="648.0" cy="429.7" r="2.6" fill="#4f81bd"/>
<line x1="450.0" y1="525.5" x2="450.0" y2="528.5" stroke="#7a7a7a" stroke-width="1"/>
<line x1="446.9" y1="525.5" x2="453.1" y2="525.5" stroke="#7a7a7a" stroke-width="1.1"/>
<line x1="446.9" y1="528.5" x2="453.1" y2="528.5" stroke="#7a7a7a" stroke-width="1.1"/>
<line x1="516.0" y1="519.5" x2="516.0" y2="522.3" stroke="#7a7a7a" stroke-width="1"/>
<line x1="512.9" y1="519.5" x2="519.1" y2="519.5" stroke="#7a7a7a" stroke-width="1.1"/>
<line x1="512.9" y1="522.3" x2="519.1" y2="522.3" stroke="#7a7a7a" stroke-width="1.1"/>
<line x1="582.0" y1="520.8" x2="582.0" y2="523.2" stroke="#7a7a7a" stroke-width="1"/>
<line x1="578.9" y1="520.8" x2="585.1" y2="520.8" stroke="#7a7a7a" stroke-width="1.1"/>
<line x1="578.9" y1="523.2" x2="585.1" y2="523.2" stroke="#7a7a7a" stroke-width="1.1"/>
<line x1="648.0" y1="512.8" x2="648.0" y2="516.0" stroke="#7a7a7a" stroke-width="1"/>
<line x1="644.9" y1="512.8" x2="651.1" y2="512.8" stroke="#7a7a7a" stroke-width="1.1"/>
<line x1="644.9" y1="516.0" x2="651.1" y2="516.0" stroke="#7a7a7a" stroke-width="1.1"/>
<path d="M450.0,527.0 L516.0,520.9 L582.0,522.0 L648.0,514.4" fill="none" stroke="#c0504d" stroke-width="2.6" stroke-linejoin="round"/>
<circle cx="450.0" cy="527.0" r="2.6" fill="#c0504d"/>
<circle cx="516.0" cy="520.9" r="2.6" fill="#c0504d"/>
<circle cx="582.0" cy="522.0" r="2.6" fill="#c0504d"/>
<circle cx="648.0" cy="514.4" r="2.6" fill="#c0504d"/>
<path d="M516.00,483.50L516.00,490.30M513.06,485.20L518.94,488.60M518.94,485.20L513.06,488.60" stroke="#404040" stroke-width="1.15" fill="none"/>
<path d="M582.00,460.20L582.00,467.00M579.06,461.90L584.94,465.30M584.94,461.90L579.06,465.30" stroke="#404040" stroke-width="1.15" fill="none"/>
<path d="M644.60,415.60L644.60,422.40M641.66,417.30L647.54,420.70M647.54,417.30L641.66,420.70" stroke="#404040" stroke-width="1.15" fill="none"/>
<path d="M654.60,415.60L654.60,422.40M651.66,417.30L657.54,420.70M657.54,417.30L651.66,420.70" stroke="#404040" stroke-width="1.15" fill="none"/>
<path d="M648.00,503.20L648.00,510.00M645.06,504.90L650.94,508.30M650.94,504.90L645.06,508.30" stroke="#404040" stroke-width="1.15" fill="none"/>
<line x1="447.0" y1="398.3" x2="473.2" y2="398.3" stroke="#4f81bd" stroke-width="2.2"/>
<circle cx="460.3" cy="398.3" r="2.3" fill="#4f81bd"/>
<line x1="447.0" y1="414.9" x2="473.2" y2="414.9" stroke="#c0504d" stroke-width="2.2"/>
<circle cx="460.3" cy="414.9" r="2.3" fill="#c0504d"/>
<text x="485.6" y="401.4" font-size="12.5" fill="#1f1d8f" font-weight="bold" font-style="italic" textLength="33.8" lengthAdjust="spacingAndGlyphs" >CsFLS</text>
<text x="485.6" y="418.4" font-size="12.5" fill="#1f1d8f" font-weight="bold" font-style="italic" textLength="81.0" lengthAdjust="spacingAndGlyphs" >CsUGT78A14</text>
<text transform="translate(356.4,520.7) rotate(-90)" font-size="13.5" font-weight="bold" fill="#111" textLength="117.5" lengthAdjust="spacingAndGlyphs">Relative Expression</text>
<text transform="translate(375,517.4) rotate(-90)" font-size="13.5" font-weight="bold" fill="#111" textLength="113.3" lengthAdjust="spacingAndGlyphs">(Ratio  to <tspan font-style="italic">CsACTIN</tspan>)</text>
<line x1="416.2" y1="614.8" x2="416.2" y2="753.9" stroke="#868686" stroke-width="1.6"/>
<line x1="411.6" y1="753.4" x2="416.2" y2="753.4" stroke="#868686" stroke-width="1.5"/>
<text x="394.1" y="757.6" font-size="11.6" fill="#404040" textLength="7.2" lengthAdjust="spacingAndGlyphs" >0</text>
<line x1="411.6" y1="707.2" x2="416.2" y2="707.2" stroke="#868686" stroke-width="1.5"/>
<text x="394.1" y="711.4" font-size="11.6" fill="#404040" textLength="7.2" lengthAdjust="spacingAndGlyphs" >1</text>
<line x1="411.6" y1="661.0" x2="416.2" y2="661.0" stroke="#868686" stroke-width="1.5"/>
<text x="394.1" y="665.2" font-size="11.6" fill="#404040" textLength="7.2" lengthAdjust="spacingAndGlyphs" >2</text>
<line x1="411.6" y1="614.8" x2="416.2" y2="614.8" stroke="#868686" stroke-width="1.5"/>
<text x="394.1" y="619.0" font-size="11.6" fill="#404040" textLength="7.2" lengthAdjust="spacingAndGlyphs" >3</text>
<line x1="411.6" y1="753.4" x2="668.6" y2="753.4" stroke="#939393" stroke-width="1.9"/>
<line x1="416.2" y1="753.4" x2="416.2" y2="757.3" stroke="#868686" stroke-width="1.5"/>
<line x1="479.3" y1="753.4" x2="479.3" y2="757.3" stroke="#868686" stroke-width="1.5"/>
<line x1="542.4" y1="753.4" x2="542.4" y2="757.3" stroke="#868686" stroke-width="1.5"/>
<line x1="605.5" y1="753.4" x2="605.5" y2="757.3" stroke="#868686" stroke-width="1.5"/>
<line x1="668.6" y1="753.4" x2="668.6" y2="757.3" stroke="#868686" stroke-width="1.5"/>
<text x="444.1" y="774.5" font-size="11.6" fill="#404040" textLength="7.2" lengthAdjust="spacingAndGlyphs" >0</text>
<text x="503.7" y="774.5" font-size="11.6" fill="#404040" textLength="14.4" lengthAdjust="spacingAndGlyphs" >24</text>
<text x="566.8" y="774.5" font-size="11.6" fill="#404040" textLength="14.4" lengthAdjust="spacingAndGlyphs" >48</text>
<text x="629.8" y="774.5" font-size="11.6" fill="#404040" textLength="14.4" lengthAdjust="spacingAndGlyphs" >96</text>
<text x="478.0" y="794.0" font-size="13" fill="#111" font-weight="bold" textLength="150.9" lengthAdjust="spacingAndGlyphs" >UV-B radiation time (h)</text>
<line x1="447.8" y1="691.2" x2="447.8" y2="699.8" stroke="#7a7a7a" stroke-width="1"/>
<line x1="444.6" y1="691.2" x2="450.9" y2="691.2" stroke="#7a7a7a" stroke-width="1.1"/>
<line x1="444.6" y1="699.8" x2="450.9" y2="699.8" stroke="#7a7a7a" stroke-width="1.1"/>
<line x1="510.9" y1="676.3" x2="510.9" y2="687.5" stroke="#7a7a7a" stroke-width="1"/>
<line x1="507.8" y1="676.3" x2="514.0" y2="676.3" stroke="#7a7a7a" stroke-width="1.1"/>
<line x1="507.8" y1="687.5" x2="514.0" y2="687.5" stroke="#7a7a7a" stroke-width="1.1"/>
<line x1="574.0" y1="658.5" x2="574.0" y2="667.8" stroke="#7a7a7a" stroke-width="1"/>
<line x1="570.9" y1="658.5" x2="577.1" y2="658.5" stroke="#7a7a7a" stroke-width="1.1"/>
<line x1="570.9" y1="667.8" x2="577.1" y2="667.8" stroke="#7a7a7a" stroke-width="1.1"/>
<line x1="637.0" y1="642.8" x2="637.0" y2="655.8" stroke="#7a7a7a" stroke-width="1"/>
<line x1="633.9" y1="642.8" x2="640.1" y2="642.8" stroke="#7a7a7a" stroke-width="1.1"/>
<line x1="633.9" y1="655.8" x2="640.1" y2="655.8" stroke="#7a7a7a" stroke-width="1.1"/>
<path d="M447.8,695.7 L510.9,681.2 L574.0,663.3 L637.0,649.1" fill="none" stroke="#4f81bd" stroke-width="2.6" stroke-linejoin="round"/>
<circle cx="447.8" cy="695.7" r="2.6" fill="#4f81bd"/>
<circle cx="510.9" cy="681.2" r="2.6" fill="#4f81bd"/>
<circle cx="574.0" cy="663.3" r="2.6" fill="#4f81bd"/>
<circle cx="637.0" cy="649.1" r="2.6" fill="#4f81bd"/>
<path d="M510.90,668.50L510.90,675.30M507.96,670.20L513.84,673.60M513.84,670.20L507.96,673.60" stroke="#404040" stroke-width="1.15" fill="none"/>
<path d="M569.60,651.70L569.60,658.50M566.66,653.40L572.54,656.80M572.54,653.40L566.66,656.80" stroke="#404040" stroke-width="1.15" fill="none"/>
<path d="M580.00,651.70L580.00,658.50M577.06,653.40L582.94,656.80M582.94,653.40L577.06,656.80" stroke="#404040" stroke-width="1.15" fill="none"/>
<path d="M632.90,634.60L632.90,641.40M629.96,636.30L635.84,639.70M635.84,636.30L629.96,639.70" stroke="#404040" stroke-width="1.15" fill="none"/>
<path d="M643.30,634.60L643.30,641.40M640.36,636.30L646.24,639.70M646.24,636.30L640.36,639.70" stroke="#404040" stroke-width="1.15" fill="none"/>
<text x="447.9" y="629.8" font-size="11.5" fill="#2a2ab0" font-weight="bold" font-style="italic" textLength="60.3" lengthAdjust="spacingAndGlyphs" >CsMYB12</text>
<text transform="translate(362.2,737.5) rotate(-90)" font-size="13.5" font-weight="bold" fill="#111" textLength="117.5" lengthAdjust="spacingAndGlyphs">Relative Expression</text>
<text transform="translate(380.8,733.8) rotate(-90)" font-size="13.5" font-weight="bold" fill="#111" textLength="112.4" lengthAdjust="spacingAndGlyphs">(Ratio  to <tspan font-style="italic">CsACTIN</tspan>)</text>
<line x1="149.5" y1="603.7" x2="189.8" y2="603.7" stroke="#333" stroke-width="1.2"/>
<line x1="149.5" y1="630.9" x2="189.8" y2="630.9" stroke="#333" stroke-width="1.2"/>
<line x1="149.5" y1="603.7" x2="149.5" y2="630.9" stroke="#333" stroke-width="1.2"/>
<line x1="108.9" y1="617.2" x2="149.5" y2="617.2" stroke="#333" stroke-width="1.2"/>
<line x1="108.9" y1="657.2" x2="189.8" y2="657.2" stroke="#333" stroke-width="1.2"/>
<line x1="108.9" y1="617.2" x2="108.9" y2="657.2" stroke="#333" stroke-width="1.2"/>
<line x1="68.6" y1="636.7" x2="108.9" y2="636.7" stroke="#333" stroke-width="1.2"/>
<line x1="108.9" y1="683.8" x2="189.8" y2="683.8" stroke="#333" stroke-width="1.2"/>
<line x1="108.9" y1="683.8" x2="108.9" y2="722.9" stroke="#333" stroke-width="1.2"/>
<line x1="68.6" y1="702.5" x2="108.9" y2="702.5" stroke="#333" stroke-width="1.2"/>
<line x1="68.6" y1="636.7" x2="68.6" y2="702.5" stroke="#333" stroke-width="1.2"/>
<line x1="108.9" y1="722.9" x2="149.5" y2="722.9" stroke="#333" stroke-width="1.2"/>
<line x1="149.5" y1="710.0" x2="189.8" y2="710.0" stroke="#333" stroke-width="1.2"/>
<line x1="149.5" y1="736.4" x2="189.8" y2="736.4" stroke="#333" stroke-width="1.2"/>
<line x1="149.5" y1="710.0" x2="149.5" y2="736.4" stroke="#333" stroke-width="1.2"/>
<line x1="149.5" y1="763.2" x2="189.8" y2="763.2" stroke="#333" stroke-width="1.2"/>
<line x1="149.5" y1="789.5" x2="189.8" y2="789.5" stroke="#333" stroke-width="1.2"/>
<line x1="149.5" y1="763.2" x2="149.5" y2="789.5" stroke="#333" stroke-width="1.2"/>
<line x1="28.3" y1="669.4" x2="68.6" y2="669.4" stroke="#333" stroke-width="1.2"/>
<line x1="28.3" y1="775.5" x2="149.5" y2="775.5" stroke="#333" stroke-width="1.2"/>
<line x1="28.3" y1="669.4" x2="28.3" y2="775.5" stroke="#333" stroke-width="1.2"/>
<text x="195.7" y="608.5" font-size="13.5" fill="#333" textLength="144.5" lengthAdjust="spacingAndGlyphs" >TEA009412(CsMYB12)</text>
<text x="195.7" y="635.7" font-size="13.5" fill="#333" textLength="71.5" lengthAdjust="spacingAndGlyphs" >TEA016401</text>
<text x="195.7" y="662.0" font-size="13.5" fill="#333" >VvMYBF1</text>
<text x="195.7" y="688.6" font-size="13.5" fill="#333" textLength="71.5" lengthAdjust="spacingAndGlyphs" >TEA031375</text>
<text x="195.7" y="714.8" font-size="13.5" fill="#333" textLength="71.5" lengthAdjust="spacingAndGlyphs" >TEA014311</text>
<text x="195.7" y="741.2" font-size="13.5" fill="#333" >AtMYB111</text>
<text x="195.7" y="768.0" font-size="13.5" fill="#333" >AtMYB12</text>
<text x="195.7" y="794.3" font-size="13.5" fill="#333" >AtMYB11</text>
<text x="130.3" y="610.7" font-size="12.2" fill="#444" textLength="12.5" lengthAdjust="spacingAndGlyphs" >94</text>
<text x="89.6" y="631.1" font-size="12.2" fill="#444" textLength="12.3" lengthAdjust="spacingAndGlyphs" >86</text>
<text x="90.2" y="720.6" font-size="12.2" fill="#444" textLength="12.3" lengthAdjust="spacingAndGlyphs" >38</text>
<text x="130.4" y="740.1" font-size="12.2" fill="#444" textLength="12.3" lengthAdjust="spacingAndGlyphs" >48</text>
<text x="125.9" y="793.0" font-size="12.2" fill="#444" textLength="16.0" lengthAdjust="spacingAndGlyphs" >100</text>
<line x1="31.5" y1="795.9" x2="71.0" y2="795.9" stroke="#444" stroke-width="1.2"/>
<line x1="31.5" y1="793.5" x2="31.5" y2="798.3" stroke="#444" stroke-width="1"/>
<line x1="71.0" y1="793.5" x2="71.0" y2="798.3" stroke="#444" stroke-width="1"/>
<text x="56" y="806.5" font-size="7.5" fill="#444" text-anchor="middle" style="font-family:'Liberation Serif',serif">0.1</text>
</svg></body></html>
